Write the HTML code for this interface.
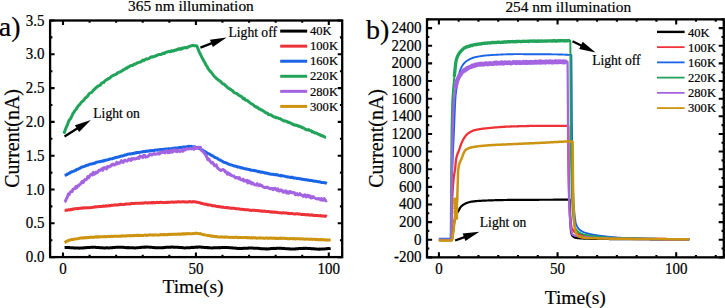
<!DOCTYPE html>
<html><head><meta charset="utf-8"><style>
html,body{margin:0;padding:0;background:#fff;width:725px;height:308px;overflow:hidden;font-family:"Liberation Serif",serif}
text{stroke:#000;stroke-width:0.2px}
</style></head><body>
<svg width="725" height="308" viewBox="0 0 725 308" style="position:absolute;left:0;top:0">
<rect width="725" height="308" fill="#fff"/>
<g font-family='"Liberation Serif", serif' fill="#000">
<g fill="none" stroke-linejoin="round" stroke-linecap="butt">
<path d="M64.59,247.58L65.53,247.51L66.46,247.60L67.39,247.55L68.32,247.46L69.25,247.49L70.18,247.74L71.11,247.77L72.04,247.87L72.97,247.82L73.90,248.00L74.83,247.94L75.76,247.94L76.69,248.08L77.62,248.00L78.55,248.04L79.48,248.19L80.41,248.02L81.34,248.07L82.27,247.98L83.20,247.96L84.13,247.78L85.06,247.77L85.99,247.77L86.92,247.58L87.85,247.44L88.78,247.50L89.71,247.46L90.64,247.37L91.57,247.19L92.50,247.16L93.43,247.24L94.36,247.19L95.29,247.24L96.22,247.41L97.16,247.54L98.09,247.45L99.02,247.55L99.95,247.67L100.88,247.78L101.81,247.79L102.74,247.83L103.67,247.93L104.60,247.96L105.53,247.93L106.46,247.82L107.39,247.87L108.32,247.92L109.25,247.88L110.18,247.77L111.11,247.77L112.04,247.70L112.97,247.54L113.90,247.58L114.83,247.40L115.76,247.37L116.69,247.22L117.62,247.17L118.55,247.16L119.48,247.15L120.41,247.24L121.34,247.18L122.27,247.31L123.20,247.30L124.13,247.42L125.06,247.46L125.99,247.63L126.92,247.66L127.86,247.53L128.79,247.79L129.72,247.72L130.65,247.77L131.58,247.77L132.51,247.85L133.44,247.81L134.37,247.93L135.30,247.89L136.23,247.81L137.16,247.76L138.09,247.70L139.02,247.62L139.95,247.43L140.88,247.45L141.81,247.18L142.74,247.19L143.67,247.18L144.60,247.11L145.53,247.21L146.46,247.03L147.39,247.06L148.32,247.12L149.25,247.23L150.18,247.19L151.11,247.28L152.04,247.38L152.97,247.38L153.90,247.53L154.83,247.67L155.76,247.68L156.69,247.82L157.62,247.86L158.56,247.73L159.49,247.72L160.42,247.65L161.35,247.66L162.28,247.70L163.21,247.77L164.14,247.59L165.07,247.40L166.00,247.37L166.93,247.37L167.86,247.31L168.79,247.31L169.72,247.27L170.65,247.26L171.58,247.01L172.51,247.07L173.44,247.21L174.37,247.16L175.30,247.29L176.23,247.30L177.16,247.22L178.09,247.31L179.02,247.43L179.95,247.56L180.88,247.53L181.81,247.51L182.74,247.70L183.67,247.85L184.60,247.88L185.53,247.88L186.46,247.65L187.39,247.74L188.32,247.63L189.25,247.76L190.19,247.68L191.12,247.49L192.05,247.36L192.98,247.44L193.91,247.44L194.84,247.16L195.77,247.25L196.70,247.09L197.63,247.21L198.56,247.05L199.49,247.01L200.42,247.06L201.35,247.19L202.28,247.14L203.21,247.36L204.14,247.39L205.07,247.44L206.00,247.40L206.93,247.68L207.86,247.56L208.79,247.65L209.72,247.67L210.65,247.88L211.58,247.96L212.51,247.97L213.44,247.82L214.37,247.77L215.30,247.82L216.23,247.84L217.16,247.85L218.09,247.64L219.02,247.58L219.95,247.73L220.89,247.64L221.82,247.43L222.75,247.39L223.68,247.51L224.61,247.51L225.54,247.48L226.47,247.47L227.40,247.63L228.33,247.49L229.26,247.64L230.19,247.65L231.12,247.88L232.05,247.78L232.98,247.93L233.91,248.13L234.84,248.05L235.77,248.20L236.70,248.22L237.63,248.49L238.56,248.52L239.49,248.36L240.42,248.48L241.35,248.41L242.28,248.48L243.21,248.22L244.14,248.30L245.07,248.16L246.00,248.30L246.93,248.14L247.86,248.20L248.79,247.93L249.72,248.02L250.65,248.10L251.59,248.09L252.52,247.98L253.45,248.13L254.38,248.14L255.31,248.13L256.24,248.18L257.17,248.23L258.10,248.30L259.03,248.45L259.96,248.47L260.89,248.67L261.82,248.71L262.75,248.63L263.68,248.86L264.61,248.87L265.54,248.88L266.47,248.82L267.40,248.93L268.33,248.89L269.26,248.73L270.19,248.76L271.12,248.56L272.05,248.46L272.98,248.45L273.91,248.35L274.84,248.38L275.77,248.42L276.70,248.28L277.63,248.27L278.56,248.20L279.49,248.34L280.42,248.34L281.35,248.22L282.28,248.42L283.22,248.44L284.15,248.37L285.08,248.63L286.01,248.75L286.94,248.67L287.87,248.78L288.80,248.83L289.73,249.04L290.66,248.98L291.59,249.11L292.52,249.06L293.45,248.92L294.38,249.07L295.31,248.97L296.24,248.73L297.17,248.68L298.10,248.74L299.03,248.60L299.96,248.56L300.89,248.54L301.82,248.38L302.75,248.52L303.68,248.31L304.61,248.50L305.54,248.28L306.47,248.35L307.40,248.44L308.33,248.42L309.26,248.53L310.19,248.52L311.12,248.77L312.05,248.74L312.98,248.72L313.92,248.78L314.85,249.04L315.78,249.09L316.71,248.96L317.64,249.15L318.57,249.24L319.50,249.06L320.43,249.13L321.36,249.01L322.29,249.04L323.22,248.97L324.15,248.93L325.08,248.90L326.01,248.67L326.94,248.66L327.87,248.57L328.80,248.49L329.73,248.62L330.66,248.41" stroke="#000000" stroke-width="3"/>
<path d="M64.59,210.26L65.53,210.30L66.46,210.11L67.39,210.21L68.32,209.71L69.25,209.88L70.18,209.55L71.11,209.64L72.04,209.53L72.97,209.11L73.90,209.05L74.83,208.83L75.76,208.64L76.69,208.43L77.62,208.80L78.55,208.40L79.48,208.33L80.41,208.19L81.34,208.16L82.27,208.06L83.20,207.81L84.13,207.95L85.06,207.82L85.99,207.66L86.92,207.91L87.85,207.64L88.78,207.75L89.71,207.65L90.64,207.65L91.57,207.47L92.50,207.39L93.43,207.15L94.36,207.05L95.29,206.83L96.22,206.94L97.16,206.64L98.09,206.83L99.02,206.56L99.95,206.57L100.88,206.45L101.81,206.55L102.74,206.10L103.67,206.09L104.60,206.33L105.53,206.02L106.46,205.68L107.39,206.09L108.32,205.86L109.25,205.52L110.18,205.80L111.11,205.32L112.04,205.32L112.97,205.14L113.90,205.14L114.83,204.84L115.76,205.07L116.69,204.86L117.62,205.06L118.55,204.70L119.48,204.70L120.41,204.31L121.34,204.25L122.27,204.61L123.20,204.58L124.13,204.46L125.06,204.34L125.99,203.97L126.92,203.99L127.86,203.92L128.79,203.88L129.72,204.05L130.65,203.77L131.58,203.37L132.51,203.40L133.44,203.47L134.37,203.60L135.30,203.15L136.23,203.36L137.16,203.20L138.09,203.37L139.02,203.25L139.95,203.19L140.88,203.12L141.81,203.28L142.74,202.90L143.67,203.13L144.60,202.86L145.53,202.82L146.46,202.75L147.39,202.94L148.32,202.91L149.25,202.63L150.18,202.80L151.11,202.90L152.04,202.47L152.97,202.92L153.90,202.43L154.83,202.73L155.76,202.65L156.69,202.31L157.62,202.58L158.56,202.41L159.49,202.55L160.42,202.26L161.35,202.34L162.28,202.45L163.21,202.64L164.14,202.47L165.07,202.38L166.00,202.47L166.93,202.31L167.86,202.47L168.79,202.29L169.72,202.25L170.65,202.15L171.58,202.09L172.51,202.07L173.44,202.21L174.37,202.17L175.30,201.91L176.23,202.16L177.16,201.93L178.09,201.77L179.02,201.78L179.95,201.95L180.88,202.06L181.81,201.86L182.74,201.81L183.67,201.87L184.60,201.95L185.53,201.86L186.46,202.05L187.39,201.92L188.32,201.98L189.25,201.68L190.19,201.51L191.12,201.94L192.05,202.00L192.98,201.61L193.91,201.81L194.84,201.75L195.77,202.11L196.70,202.24L197.63,202.22L198.56,202.55L199.49,202.70L200.42,202.91L201.35,203.46L202.28,203.52L203.21,203.82L204.14,203.98L205.07,204.24L206.00,204.12L206.93,204.50L207.86,204.95L208.79,204.84L209.72,204.88L210.65,205.09L211.58,205.45L212.51,205.91L213.44,205.64L214.37,205.72L215.30,205.98L216.23,206.28L217.16,206.45L218.09,206.38L219.02,206.86L219.95,206.62L220.89,206.90L221.82,207.26L222.75,206.97L223.68,207.32L224.61,207.59L225.54,207.67L226.47,207.41L227.40,207.89L228.33,207.67L229.26,207.77L230.19,208.26L231.12,208.18L232.05,208.09L232.98,208.35L233.91,208.25L234.84,208.61L235.77,208.58L236.70,208.90L237.63,208.66L238.56,208.75L239.49,209.00L240.42,209.22L241.35,209.30L242.28,209.25L243.21,209.59L244.14,209.47L245.07,209.68L246.00,209.74L246.93,209.83L247.86,209.64L248.79,210.08L249.72,210.13L250.65,210.25L251.59,210.42L252.52,210.28L253.45,210.14L254.38,210.19L255.31,210.50L256.24,210.62L257.17,210.46L258.10,210.73L259.03,210.80L259.96,210.83L260.89,211.22L261.82,210.89L262.75,211.37L263.68,211.22L264.61,211.09L265.54,211.37L266.47,211.56L267.40,211.44L268.33,211.42L269.26,211.66L270.19,212.04L271.12,211.67L272.05,212.22L272.98,211.94L273.91,211.90L274.84,212.38L275.77,212.25L276.70,212.24L277.63,212.60L278.56,212.64L279.49,212.81L280.42,212.84L281.35,212.94L282.28,212.92L283.22,212.75L284.15,212.86L285.08,212.89L286.01,213.02L286.94,213.03L287.87,213.45L288.80,213.31L289.73,213.67L290.66,213.49L291.59,213.37L292.52,213.65L293.45,213.82L294.38,213.90L295.31,213.91L296.24,213.71L297.17,213.75L298.10,213.94L299.03,213.89L299.96,214.08L300.89,214.41L301.82,214.41L302.75,214.32L303.68,214.40L304.61,214.49L305.54,214.67L306.47,214.93L307.40,214.56L308.33,215.03L309.26,214.69L310.19,215.22L311.12,214.83L312.05,215.23L312.98,215.07L313.92,215.58L314.85,215.41L315.78,215.59L316.71,215.42L317.64,215.51L318.57,215.69L319.50,215.63L320.43,215.55L321.36,216.10L322.29,215.92L323.22,215.93L324.15,216.03L325.08,216.30L326.01,216.04L326.94,216.45" stroke="#ee3338" stroke-width="3"/>
<path d="M64.59,175.32L65.53,175.09L66.46,174.82L67.39,174.00L68.32,173.94L69.25,173.09L70.18,172.73L71.11,172.11L72.04,171.68L72.97,171.43L73.90,171.11L74.83,170.57L75.76,170.26L76.69,169.45L77.62,169.31L78.55,168.82L79.48,168.36L80.41,167.85L81.34,167.29L82.27,167.03L83.20,166.62L84.13,166.48L85.06,166.00L85.99,165.75L86.92,165.15L87.85,165.24L88.78,164.62L89.71,164.29L90.64,164.11L91.57,164.09L92.50,163.72L93.43,163.46L94.36,163.19L95.29,162.95L96.22,162.32L97.16,162.18L98.09,161.89L99.02,161.75L99.95,161.72L100.88,161.17L101.81,161.19L102.74,161.13L103.67,160.61L104.60,160.64L105.53,160.11L106.46,159.92L107.39,159.94L108.32,159.62L109.25,159.24L110.18,159.03L111.11,158.87L112.04,158.79L112.97,158.48L113.90,158.03L114.83,157.90L115.76,157.50L116.69,157.25L117.62,157.17L118.55,157.04L119.48,156.47L120.41,156.38L121.34,156.01L122.27,155.99L123.20,155.73L124.13,155.34L125.06,154.97L125.99,155.03L126.92,154.45L127.86,154.20L128.79,154.09L129.72,153.86L130.65,153.95L131.58,153.85L132.51,153.55L133.44,153.50L134.37,153.17L135.30,152.82L136.23,152.93L137.16,152.46L138.09,152.53L139.02,152.54L139.95,152.13L140.88,152.10L141.81,152.02L142.74,151.78L143.67,151.40L144.60,151.39L145.53,151.51L146.46,151.05L147.39,151.33L148.32,151.08L149.25,150.99L150.18,150.54L151.11,150.95L152.04,150.50L152.97,150.47L153.90,150.55L154.83,150.19L155.76,150.00L156.69,149.92L157.62,150.20L158.56,149.72L159.49,149.87L160.42,149.50L161.35,149.57L162.28,149.74L163.21,149.29L164.14,149.30L165.07,149.27L166.00,149.08L166.93,149.09L167.86,149.22L168.79,148.65L169.72,148.89L170.65,148.80L171.58,148.82L172.51,148.35L173.44,148.13L174.37,148.25L175.30,147.93L176.23,148.07L177.16,147.91L178.09,147.83L179.02,147.70L179.95,147.43L180.88,147.43L181.81,147.45L182.74,147.00L183.67,147.09L184.60,146.95L185.53,146.96L186.46,146.95L187.39,146.55L188.32,146.61L189.25,146.28L190.19,146.73L191.12,146.27L192.05,146.70L192.98,146.66L193.91,146.90L194.84,146.88L195.77,147.28L196.70,147.67L197.63,147.71L198.56,148.33L199.49,148.55L200.42,148.95L201.35,149.68L202.28,149.98L203.21,150.73L204.14,151.16L205.07,151.53L206.00,152.15L206.93,152.97L207.86,153.52L208.79,153.68L209.72,154.23L210.65,154.76L211.58,155.49L212.51,155.70L213.44,156.33L214.37,157.08L215.30,157.59L216.23,157.87L217.16,158.20L218.09,158.93L219.02,159.60L219.95,159.88L220.89,160.66L221.82,160.91L222.75,161.51L223.68,162.18L224.61,162.37L225.54,162.80L226.47,163.00L227.40,163.50L228.33,164.09L229.26,164.25L230.19,164.78L231.12,164.87L232.05,165.19L232.98,165.48L233.91,166.00L234.84,165.98L235.77,166.34L236.70,166.50L237.63,167.13L238.56,167.00L239.49,167.13L240.42,167.56L241.35,168.04L242.28,167.84L243.21,168.26L244.14,168.63L245.07,168.66L246.00,168.74L246.93,169.36L247.86,169.32L248.79,169.48L249.72,169.52L250.65,170.20L251.59,170.14L252.52,170.21L253.45,170.44L254.38,170.52L255.31,170.82L256.24,171.03L257.17,171.23L258.10,171.66L259.03,171.47L259.96,171.85L260.89,172.30L261.82,172.06L262.75,172.32L263.68,172.52L264.61,173.02L265.54,172.85L266.47,173.22L267.40,173.14L268.33,173.67L269.26,173.74L270.19,174.03L271.12,174.25L272.05,174.25L272.98,174.21L273.91,174.52L274.84,174.75L275.77,174.56L276.70,174.84L277.63,174.86L278.56,175.38L279.49,175.60L280.42,175.34L281.35,175.97L282.28,175.75L283.22,175.82L284.15,176.10L285.08,176.33L286.01,176.60L286.94,176.79L287.87,177.07L288.80,177.06L289.73,177.15L290.66,177.45L291.59,177.21L292.52,177.35L293.45,177.89L294.38,177.88L295.31,177.88L296.24,178.19L297.17,178.47L298.10,178.36L299.03,178.68L299.96,178.78L300.89,178.86L301.82,179.26L302.75,179.20L303.68,179.58L304.61,179.52L305.54,179.88L306.47,179.74L307.40,180.13L308.33,179.94L309.26,180.52L310.19,180.37L311.12,180.44L312.05,180.58L312.98,180.92L313.92,181.05L314.85,181.34L315.78,181.18L316.71,181.38L317.64,181.66L318.57,181.81L319.50,181.74L320.43,182.08L321.36,182.48L322.29,182.62L323.22,182.41L324.15,182.69L325.08,182.82L326.01,183.04L326.94,183.41" stroke="#1a64e6" stroke-width="3"/>
<path d="M63.80,133.60L64.73,131.40L65.66,128.77L66.59,126.48L67.52,124.65L68.45,121.73L69.38,119.82L70.31,119.05L71.24,117.31L72.17,115.35L73.10,113.17L74.03,112.25L74.96,110.36L75.89,109.62L76.82,108.15L77.75,106.53L78.68,105.50L79.61,104.72L80.54,103.43L81.47,102.15L82.40,101.33L83.33,100.52L84.26,99.48L85.19,97.95L86.12,97.57L87.05,96.67L87.99,95.66L88.92,94.01L89.85,93.13L90.78,92.83L91.71,92.26L92.64,91.18L93.57,89.89L94.50,89.41L95.43,88.27L96.36,87.51L97.29,86.82L98.22,85.99L99.15,85.65L100.08,85.30L101.01,83.92L101.94,82.99L102.87,82.65L103.80,82.42L104.73,81.01L105.66,80.35L106.59,79.69L107.52,79.33L108.45,78.40L109.38,78.54L110.31,77.56L111.24,76.50L112.17,75.90L113.10,75.52L114.03,75.18L114.96,74.56L115.89,74.25L116.82,73.87L117.75,72.59L118.69,72.37L119.62,72.07L120.55,71.56L121.48,71.20L122.41,70.66L123.34,69.62L124.27,69.53L125.20,69.01L126.13,67.95L127.06,68.29L127.99,66.90L128.92,67.02L129.85,66.11L130.78,65.67L131.71,65.38L132.64,65.62L133.57,64.53L134.50,64.33L135.43,64.05L136.36,63.41L137.29,62.84L138.22,62.73L139.15,62.30L140.08,62.11L141.01,61.77L141.94,60.88L142.87,60.11L143.80,60.68L144.73,59.69L145.66,59.38L146.59,58.85L147.52,58.96L148.45,58.67L149.38,58.29L150.32,57.35L151.25,57.00L152.18,56.71L153.11,56.96L154.04,56.53L154.97,56.30L155.90,55.56L156.83,55.74L157.76,54.89L158.69,54.53L159.62,54.52L160.55,54.62L161.48,54.24L162.41,53.62L163.34,53.16L164.27,53.46L165.20,52.71L166.13,52.16L167.06,52.08L167.99,51.65L168.92,51.32L169.85,51.80L170.78,51.62L171.71,50.63L172.64,50.93L173.57,50.99L174.50,50.19L175.43,50.10L176.36,50.17L177.29,49.16L178.22,49.40L179.15,48.62L180.08,49.16L181.02,49.19L181.95,48.06L182.88,48.52L183.81,47.64L184.74,47.91L185.67,47.49L186.60,47.91L187.53,47.55L188.46,46.88L189.39,46.33L190.32,46.20L191.25,45.82L192.18,45.69L193.11,45.24L194.04,45.84L194.97,45.83L195.90,45.66L196.83,46.01L197.76,48.02L198.69,50.67L199.62,52.81L200.55,54.51L201.48,56.37L202.41,58.33L203.34,59.97L204.27,61.70L205.20,63.18L206.13,65.31L207.06,66.27L207.99,68.36L208.92,69.71L209.85,70.99L210.78,71.77L211.72,72.89L212.65,74.28L213.58,75.36L214.51,76.59L215.44,77.33L216.37,78.41L217.30,79.00L218.23,80.00L219.16,80.35L220.09,81.08L221.02,82.18L221.95,82.99L222.88,83.93L223.81,84.04L224.74,84.75L225.67,85.87L226.60,86.38L227.53,87.60L228.46,88.07L229.39,89.00L230.32,89.05L231.25,90.08L232.18,90.42L233.11,91.35L234.04,92.54L234.97,92.91L235.90,93.21L236.83,93.46L237.76,94.35L238.69,95.28L239.62,95.57L240.55,96.22L241.48,96.49L242.41,97.52L243.35,98.81L244.28,98.39L245.21,99.94L246.14,100.34L247.07,100.32L248.00,101.26L248.93,101.86L249.86,102.74L250.79,103.37L251.72,104.07L252.65,104.18L253.58,105.21L254.51,106.07L255.44,106.58L256.37,107.24L257.30,107.02L258.23,108.29L259.16,108.92L260.09,109.04L261.02,109.99L261.95,110.01L262.88,110.70L263.81,111.35L264.74,112.01L265.67,112.64L266.60,113.08L267.53,113.30L268.46,114.48L269.39,114.77L270.32,114.71L271.25,115.15L272.18,115.72L273.11,116.48L274.05,116.93L274.98,116.99L275.91,117.68L276.84,117.54L277.77,117.89L278.70,118.31L279.63,118.78L280.56,118.86L281.49,119.58L282.42,120.23L283.35,120.63L284.28,121.14L285.21,120.93L286.14,121.13L287.07,121.65L288.00,122.53L288.93,122.28L289.86,122.60L290.79,123.37L291.72,123.55L292.65,124.42L293.58,124.21L294.51,125.20L295.44,125.20L296.37,125.06L297.30,125.61L298.23,126.24L299.16,126.01L300.09,126.68L301.02,126.71L301.95,127.54L302.88,127.72L303.81,128.09L304.75,129.09L305.68,129.36L306.61,129.75L307.54,130.03L308.47,129.56L309.40,130.28L310.33,130.61L311.26,130.79L312.19,131.98L313.12,131.76L314.05,132.41L314.98,132.97L315.91,132.98L316.84,133.33L317.77,133.97L318.70,134.28L319.63,134.52L320.56,135.46L321.49,135.36L322.42,136.17L323.35,136.11L324.28,136.73L325.21,137.25L326.14,137.27" stroke="#22a35a" stroke-width="3"/>
<path d="M64.59,201.98L65.53,201.03L66.46,198.52L67.39,197.15L68.32,194.06L69.25,194.53L70.18,192.27L71.11,191.42L72.04,191.58L72.97,189.37L73.90,188.89L74.83,188.51L75.76,186.51L76.69,187.81L77.62,185.76L78.55,185.81L79.48,184.54L80.41,184.10L81.34,182.57L82.27,181.32L83.20,182.55L84.13,180.82L85.06,179.44L85.99,179.76L86.92,178.85L87.85,176.53L88.78,177.72L89.71,175.75L90.64,174.72L91.57,174.15L92.50,175.03L93.43,172.35L94.36,174.16L95.29,173.71L96.22,172.02L97.16,172.79L98.09,171.81L99.02,170.27L99.95,170.43L100.88,169.96L101.81,168.73L102.74,170.31L103.67,167.75L104.60,168.20L105.53,167.69L106.46,168.93L107.39,166.46L108.32,167.23L109.25,166.84L110.18,165.87L111.11,166.08L112.04,164.38L112.97,164.05L113.90,164.99L114.83,164.96L115.76,164.13L116.69,162.32L117.62,163.62L118.55,162.79L119.48,163.17L120.41,162.14L121.34,160.69L122.27,161.74L123.20,162.41L124.13,160.68L125.06,160.02L125.99,160.84L126.92,161.19L127.86,160.33L128.79,159.06L129.72,159.62L130.65,160.50L131.58,158.63L132.51,159.48L133.44,158.59L134.37,158.68L135.30,159.04L136.23,158.36L137.16,158.47L138.09,157.61L139.02,158.35L139.95,156.10L140.88,156.33L141.81,156.39L142.74,157.37L143.67,155.48L144.60,155.26L145.53,157.16L146.46,156.66L147.39,156.77L148.32,156.19L149.25,154.79L150.18,154.13L151.11,155.02L152.04,155.08L152.97,154.08L153.90,153.56L154.83,154.19L155.76,154.01L156.69,154.00L157.62,153.69L158.56,153.48L159.49,154.06L160.42,151.88L161.35,152.70L162.28,152.13L163.21,152.54L164.14,151.59L165.07,152.80L166.00,151.14L166.93,150.72L167.86,152.60L168.79,151.72L169.72,152.56L170.65,150.65L171.58,151.14L172.51,152.22L173.44,149.98L174.37,149.83L175.30,151.30L176.23,150.08L177.16,151.62L178.09,150.12L179.02,150.87L179.95,151.51L180.88,150.76L181.81,150.12L182.74,151.27L183.67,149.15L184.60,150.19L185.53,149.88L186.46,148.69L187.39,148.69L188.32,149.10L189.25,148.97L190.19,148.57L191.12,148.89L192.05,148.72L192.98,147.81L193.91,149.32L194.84,146.95L195.77,148.47L196.70,148.30L197.63,147.20L198.56,147.31L199.49,147.53L200.42,147.27L201.35,150.20L202.28,150.90L203.21,152.05L204.14,152.55L205.07,154.47L206.00,155.25L206.93,157.26L207.86,159.58L208.79,158.96L209.72,160.71L210.65,161.85L211.58,162.95L212.51,162.32L213.44,163.68L214.37,165.70L215.30,165.69L216.23,164.94L217.16,167.41L218.09,168.38L219.02,169.14L219.95,169.76L220.89,170.43L221.82,169.97L222.75,169.47L223.68,169.91L224.61,170.54L225.54,172.34L226.47,172.10L227.40,174.12L228.33,172.88L229.26,174.56L230.19,174.11L231.12,175.48L232.05,175.46L232.98,175.98L233.91,176.07L234.84,177.20L235.77,177.97L236.70,177.48L237.63,177.38L238.56,178.72L239.49,177.70L240.42,179.31L241.35,179.80L242.28,180.15L243.21,179.09L244.14,181.05L245.07,180.58L246.00,181.12L246.93,180.33L247.86,182.92L248.79,180.95L249.72,182.78L250.65,181.97L251.59,183.73L252.52,182.77L253.45,183.98L254.38,184.60L255.31,184.90L256.24,185.18L257.17,183.66L258.10,185.03L259.03,185.63L259.96,184.68L260.89,185.61L261.82,185.54L262.75,186.74L263.68,187.20L264.61,187.57L265.54,187.34L266.47,187.41L267.40,187.08L268.33,187.93L269.26,188.18L270.19,188.85L271.12,188.61L272.05,188.45L272.98,189.69L273.91,188.40L274.84,188.23L275.77,189.30L276.70,190.15L277.63,188.75L278.56,191.03L279.49,191.08L280.42,189.89L281.35,190.00L282.28,191.27L283.22,192.16L284.15,191.04L285.08,191.97L286.01,190.94L286.94,193.06L287.87,192.12L288.80,193.22L289.73,191.53L290.66,191.67L291.59,192.82L292.52,192.76L293.45,192.50L294.38,192.65L295.31,194.76L296.24,194.43L297.17,193.51L298.10,194.96L299.03,194.79L299.96,193.62L300.89,195.05L301.82,194.99L302.75,196.03L303.68,196.41L304.61,194.75L305.54,195.27L306.47,197.00L307.40,195.24L308.33,195.51L309.26,197.08L310.19,195.92L311.12,197.92L312.05,197.82L312.98,196.47L313.92,197.51L314.85,197.97L315.78,198.43L316.71,198.81L317.64,199.09L318.57,198.61L319.50,198.67L320.43,199.87L321.36,198.47L322.29,200.22L323.22,200.28L324.15,198.65L325.08,200.09L326.01,200.87L326.94,200.42" stroke="#a463e0" stroke-width="3"/>
<path d="M64.59,242.68L65.53,242.18L66.46,241.17L67.39,241.15L68.32,240.41L69.25,240.27L70.18,240.12L71.11,239.54L72.04,239.52L72.97,239.58L73.90,239.23L74.83,238.94L75.76,238.90L76.69,238.82L77.62,238.67L78.55,238.56L79.48,238.35L80.41,237.95L81.34,237.89L82.27,238.00L83.20,237.72L84.13,238.03L85.06,237.70L85.99,237.52L86.92,237.74L87.85,237.51L88.78,237.46L89.71,237.62L90.64,237.09L91.57,237.35L92.50,237.19L93.43,237.43L94.36,237.10L95.29,237.09L96.22,236.80L97.16,237.19L98.09,236.70L99.02,237.03L99.95,236.63L100.88,236.63L101.81,236.68L102.74,236.77L103.67,236.68L104.60,236.52L105.53,236.64L106.46,236.77L107.39,236.39L108.32,236.35L109.25,236.55L110.18,236.55L111.11,236.14L112.04,236.41L112.97,236.53L113.90,236.06L114.83,236.37L115.76,236.26L116.69,236.13L117.62,236.15L118.55,236.26L119.48,236.22L120.41,236.05L121.34,236.22L122.27,235.77L123.20,236.09L124.13,236.12L125.06,236.07L125.99,236.03L126.92,235.62L127.86,235.85L128.79,235.64L129.72,235.57L130.65,235.94L131.58,235.62L132.51,235.48L133.44,235.77L134.37,235.36L135.30,235.55L136.23,235.53L137.16,235.24L138.09,235.65L139.02,235.22L139.95,235.55L140.88,235.36L141.81,235.59L142.74,235.41L143.67,235.44L144.60,235.13L145.53,234.98L146.46,235.41L147.39,235.43L148.32,235.08L149.25,234.88L150.18,234.86L151.11,234.88L152.04,234.93L152.97,234.98L153.90,235.25L154.83,234.73L155.76,234.89L156.69,234.92L157.62,235.13L158.56,235.02L159.49,234.89L160.42,234.53L161.35,234.67L162.28,234.61L163.21,234.75L164.14,234.52L165.07,234.78L166.00,234.71L166.93,234.54L167.86,234.70L168.79,234.29L169.72,234.60L170.65,234.44L171.58,234.16L172.51,234.44L173.44,234.29L174.37,234.20L175.30,234.30L176.23,234.36L177.16,234.18L178.09,234.00L179.02,234.17L179.95,233.99L180.88,234.18L181.81,234.07L182.74,233.74L183.67,234.17L184.60,233.66L185.53,234.08L186.46,233.61L187.39,233.79L188.32,233.56L189.25,233.75L190.19,233.73L191.12,233.72L192.05,233.72L192.98,233.48L193.91,233.62L194.84,233.46L195.77,233.12L196.70,233.20L197.63,233.36L198.56,233.68L199.49,233.85L200.42,233.59L201.35,234.17L202.28,234.36L203.21,234.52L204.14,234.78L205.07,234.88L206.00,235.15L206.93,235.36L207.86,235.55L208.79,235.48L209.72,235.58L210.65,236.05L211.58,236.28L212.51,236.01L213.44,236.46L214.37,236.31L215.30,236.64L216.23,236.51L217.16,236.72L218.09,236.92L219.02,236.99L219.95,236.89L220.89,236.85L221.82,236.91L222.75,236.95L223.68,236.96L224.61,237.20L225.54,236.96L226.47,236.93L227.40,237.14L228.33,237.16L229.26,237.38L230.19,237.46L231.12,237.37L232.05,237.30L232.98,237.50L233.91,237.40L234.84,237.36L235.77,237.35L236.70,237.27L237.63,237.41L238.56,237.63L239.49,237.58L240.42,237.54L241.35,237.51L242.28,237.60L243.21,237.64L244.14,237.39L245.07,237.54L246.00,237.43L246.93,237.86L247.86,237.61L248.79,237.74L249.72,237.84L250.65,238.01L251.59,237.58L252.52,238.07L253.45,237.65L254.38,237.92L255.31,237.67L256.24,238.14L257.17,238.15L258.10,237.97L259.03,237.88L259.96,237.87L260.89,238.09L261.82,237.92L262.75,238.06L263.68,238.20L264.61,238.24L265.54,238.20L266.47,237.86L267.40,238.21L268.33,238.08L269.26,238.32L270.19,237.88L271.12,237.95L272.05,238.36L272.98,238.35L273.91,238.01L274.84,238.34L275.77,238.47L276.70,238.22L277.63,238.48L278.56,238.54L279.49,238.25L280.42,238.09L281.35,238.54L282.28,238.20L283.22,238.34L284.15,238.23L285.08,238.54L286.01,238.56L286.94,238.46L287.87,238.67L288.80,238.65L289.73,238.77L290.66,238.41L291.59,238.64L292.52,238.84L293.45,238.45L294.38,238.86L295.31,238.98L296.24,238.77L297.17,238.71L298.10,238.80L299.03,238.76L299.96,238.93L300.89,238.74L301.82,238.89L302.75,239.14L303.68,238.80L304.61,239.28L305.54,239.16L306.47,239.06L307.40,238.90L308.33,239.26L309.26,239.38L310.19,239.17L311.12,239.12L312.05,239.43L312.98,239.36L313.92,239.28L314.85,239.40L315.78,239.26L316.71,239.67L317.64,239.36L318.57,239.81L319.50,239.71L320.43,239.45L321.36,239.67L322.29,239.49L323.22,239.69L324.15,239.63L325.08,239.97L326.01,239.87L326.94,239.91L327.87,240.04L328.80,239.99L329.73,239.92L330.66,239.80" stroke="#cc9410" stroke-width="3"/>
</g>
<rect x="50.10" y="20.50" width="292.10" height="236.60" fill="none" stroke="#000" stroke-width="2.3"/>
<path d="M63.00,257.10V252.60M63.00,20.50V25.00M195.90,257.10V252.60M195.90,20.50V25.00M328.80,257.10V252.60M328.80,20.50V25.00M89.58,257.10V254.80M89.58,20.50V22.80M116.16,257.10V254.80M116.16,20.50V22.80M142.74,257.10V254.80M142.74,20.50V22.80M169.32,257.10V254.80M169.32,20.50V22.80M222.48,257.10V254.80M222.48,20.50V22.80M249.06,257.10V254.80M249.06,20.50V22.80M275.64,257.10V254.80M275.64,20.50V22.80M302.22,257.10V254.80M302.22,20.50V22.80M50.10,257.10H54.60M342.20,257.10H337.70M50.10,223.30H54.60M342.20,223.30H337.70M50.10,189.50H54.60M342.20,189.50H337.70M50.10,155.70H54.60M342.20,155.70H337.70M50.10,121.90H54.60M342.20,121.90H337.70M50.10,88.10H54.60M342.20,88.10H337.70M50.10,54.30H54.60M342.20,54.30H337.70M50.10,20.50H54.60M342.20,20.50H337.70M50.10,240.20H52.40M342.20,240.20H339.90M50.10,206.40H52.40M342.20,206.40H339.90M50.10,172.60H52.40M342.20,172.60H339.90M50.10,138.80H52.40M342.20,138.80H339.90M50.10,105.00H52.40M342.20,105.00H339.90M50.10,71.20H52.40M342.20,71.20H339.90M50.10,37.40H52.40M342.20,37.40H339.90" stroke="#000" stroke-width="2.10" fill="none"/>
<text transform="translate(44.40 262.10) scale(1 1.080)" font-size="15.00" text-anchor="end">0.0</text>
<text transform="translate(44.40 228.30) scale(1 1.080)" font-size="15.00" text-anchor="end">0.5</text>
<text transform="translate(44.40 194.50) scale(1 1.080)" font-size="15.00" text-anchor="end">1.0</text>
<text transform="translate(44.40 160.70) scale(1 1.080)" font-size="15.00" text-anchor="end">1.5</text>
<text transform="translate(44.40 126.90) scale(1 1.080)" font-size="15.00" text-anchor="end">2.0</text>
<text transform="translate(44.40 93.10) scale(1 1.080)" font-size="15.00" text-anchor="end">2.5</text>
<text transform="translate(44.40 59.30) scale(1 1.080)" font-size="15.00" text-anchor="end">3.0</text>
<text transform="translate(44.40 25.50) scale(1 1.080)" font-size="15.00" text-anchor="end">3.5</text>
<text transform="translate(63.00 274.40) scale(1 1.090)" font-size="15.00" text-anchor="middle">0</text>
<text transform="translate(195.90 274.40) scale(1 1.090)" font-size="15.00" text-anchor="middle">50</text>
<text transform="translate(328.80 274.40) scale(1 1.090)" font-size="15.00" text-anchor="middle">100</text>
<text x="193.00" y="293.20" font-size="19.50" text-anchor="middle" >Time(s)</text>
<text x="18.60" y="138.40" font-size="20.00" text-anchor="middle" transform="rotate(-90 18.6 138.4)">Current(nA)</text>
<text x="-1.20" y="35.80" font-size="28.00" text-anchor="start" >a)</text>
<text x="128.10" y="11.00" font-size="15.40" text-anchor="start" >365 nm illumination</text>
<line x1="280.2" y1="31.10" x2="307.2" y2="31.10" stroke="#000000" stroke-width="3"/>
<text transform="translate(310.00 34.90) scale(1 1.040)" font-size="12.60" text-anchor="start">40K</text>
<line x1="280.2" y1="46.16" x2="307.2" y2="46.16" stroke="#ee3338" stroke-width="3"/>
<text transform="translate(310.00 50.05) scale(1 1.040)" font-size="12.60" text-anchor="start">100K</text>
<line x1="280.2" y1="61.22" x2="307.2" y2="61.22" stroke="#1a64e6" stroke-width="3"/>
<text transform="translate(310.00 65.20) scale(1 1.040)" font-size="12.60" text-anchor="start">160K</text>
<line x1="280.2" y1="76.28" x2="307.2" y2="76.28" stroke="#22a35a" stroke-width="3"/>
<text transform="translate(310.00 80.35) scale(1 1.040)" font-size="12.60" text-anchor="start">220K</text>
<line x1="280.2" y1="91.34" x2="307.2" y2="91.34" stroke="#a463e0" stroke-width="3"/>
<text transform="translate(310.00 95.50) scale(1 1.040)" font-size="12.60" text-anchor="start">280K</text>
<line x1="280.2" y1="106.40" x2="307.2" y2="106.40" stroke="#cc9410" stroke-width="3"/>
<text transform="translate(310.00 110.65) scale(1 1.040)" font-size="12.60" text-anchor="start">300K</text>
<text x="228.50" y="37.00" font-size="13.60" text-anchor="start" >Light off</text>
<line x1="200.40" y1="47.60" x2="213.26" y2="42.64" stroke="#000" stroke-width="2.30"/><polygon points="226.60,37.50 212.83,47.10 209.95,39.63" fill="#000"/>
<text x="93.30" y="118.10" font-size="13.60" text-anchor="start" >Light on</text>
<line x1="64.50" y1="136.40" x2="78.75" y2="127.55" stroke="#000" stroke-width="2.30"/><polygon points="90.90,120.00 79.16,132.00 74.94,125.20" fill="#000"/>
<g fill="none" stroke-linejoin="round" stroke-linecap="butt">
<path d="M438.90,240.25L439.61,240.25L440.32,240.25L441.04,240.25L441.75,240.25L442.46,240.25L443.17,240.25L443.88,240.25L444.60,240.25L445.31,240.25L445.38,240.25L445.45,240.25L445.52,240.25L445.59,240.25L445.66,240.25L445.73,240.25L445.81,240.25L445.88,240.25L445.95,240.25L446.02,240.25L446.09,240.25L446.16,240.25L446.23,240.25L446.30,240.25L446.37,240.25L446.45,240.25L446.52,240.25L446.59,240.25L446.66,240.25L446.73,240.25L446.80,240.25L446.87,240.25L446.94,240.25L447.02,240.25L447.09,240.25L447.16,240.25L447.23,240.25L447.30,240.25L447.37,240.25L447.44,240.25L447.51,240.25L447.59,240.25L447.66,240.25L447.73,240.25L447.80,240.25L447.87,240.25L447.94,240.25L448.01,240.25L448.08,240.25L448.15,240.25L448.23,240.25L448.30,240.25L448.37,240.25L448.44,240.25L448.51,240.25L448.58,240.25L448.65,240.25L448.72,240.25L448.80,240.25L448.87,240.25L448.94,240.25L449.01,240.25L449.08,240.25L449.15,240.25L449.22,240.25L449.29,240.25L449.36,240.25L449.44,240.25L449.51,240.25L449.58,240.25L449.65,240.25L449.72,240.25L449.79,240.25L449.86,240.25L449.93,240.25L450.01,240.25L450.08,240.25L450.15,240.25L450.22,240.25L450.29,240.25L450.36,240.25L450.43,240.25L450.50,240.25L450.58,240.25L450.65,240.25L450.72,240.25L450.79,240.25L450.86,240.25L450.93,240.25L451.00,240.25L451.07,240.25L451.14,240.25L451.22,240.25L451.29,240.25L451.36,240.25L451.43,240.25L451.50,240.25L451.57,240.21L451.64,240.13L451.71,240.01L451.79,239.84L451.86,239.64L451.93,239.41L452.00,239.14L452.07,238.83L452.14,238.49L452.21,238.13L452.28,237.74L452.35,237.32L452.43,236.87L452.50,236.40L452.57,235.91L452.64,235.41L452.71,234.88L452.78,234.34L452.85,233.78L452.92,233.21L453.00,232.63L453.07,232.04L453.14,231.45L453.21,230.84L453.28,230.24L453.35,229.63L453.42,229.02L453.49,228.41L453.57,227.80L453.64,227.20L453.71,226.60L453.78,226.01L453.85,225.43L453.92,224.87L453.99,224.31L454.06,223.77L454.13,223.25L454.21,222.74L454.28,222.25L454.35,221.79L454.42,221.35L454.49,220.93L454.56,220.54L454.63,220.17L454.70,219.84L454.78,219.54L454.85,219.26L454.92,219.00L454.99,218.73L455.06,218.47L455.13,218.22L455.20,217.97L455.27,217.72L455.34,217.48L455.42,217.25L455.49,217.02L455.56,216.79L455.63,216.57L455.70,216.35L455.77,216.14L455.84,215.93L455.91,215.72L455.99,215.52L456.06,215.33L456.13,215.14L456.20,214.95L456.27,214.77L456.34,214.59L456.41,214.42L456.48,214.25L456.56,214.08L456.63,213.92L456.70,213.77L456.77,213.61L456.84,213.47L456.91,213.32L456.98,213.18L457.05,213.05L457.12,212.92L457.20,212.80L457.27,212.68L457.34,212.57L457.41,212.46L457.48,212.35L457.55,212.24L457.62,212.14L457.69,212.04L457.77,211.94L457.84,211.84L457.91,211.74L457.98,211.64L458.05,211.54L458.12,211.43L458.19,211.33L458.26,211.22L458.33,211.11L458.41,210.99L458.48,210.88L458.55,210.75L458.62,210.63L458.69,210.50L458.76,210.38L458.83,210.25L458.90,210.11L458.98,209.98L459.05,209.84L459.12,209.71L459.19,209.57L459.26,209.43L459.33,209.30L459.40,209.16L459.47,209.02L459.55,208.89L459.62,208.75L459.69,208.62L459.76,208.48L459.83,208.35L459.90,208.22L459.97,208.09L460.04,207.97L460.11,207.85L460.19,207.73L460.26,207.61L460.33,207.50L460.40,207.39L460.47,207.28L460.54,207.18L460.61,207.08L460.68,206.99L460.76,206.90L460.83,206.81L460.90,206.74L460.97,206.66L461.04,206.59L461.11,206.53L461.18,206.46L461.25,206.39L461.32,206.33L461.40,206.26L461.47,206.20L461.54,206.13L461.61,206.07L461.68,206.01L461.75,205.94L461.82,205.88L461.89,205.82L461.97,205.76L462.04,205.70L462.11,205.64L462.18,205.59L462.25,205.53L462.32,205.47L462.39,205.42L462.46,205.36L462.54,205.31L462.61,205.25L462.68,205.20L462.75,205.15L462.82,205.10L462.89,205.04L462.96,204.99L463.03,204.94L463.10,204.89L463.18,204.84L463.25,204.80L463.32,204.75L463.39,204.70L463.46,204.65L463.53,204.61L463.60,204.56L463.67,204.52L463.75,204.47L463.82,204.43L463.89,204.39L464.60,203.98L465.31,203.62L466.02,203.30L466.74,203.02L467.45,202.77L468.16,202.53L468.87,202.31L469.58,202.11L470.29,201.94L471.01,201.79L471.72,201.66L472.43,201.56L473.14,201.46L473.85,201.37L474.57,201.29L475.28,201.21L475.99,201.14L476.70,201.07L477.41,201.01L478.13,200.96L478.84,200.91L479.55,200.87L480.26,200.83L480.97,200.79L481.69,200.76L482.40,200.72L483.11,200.69L483.82,200.65L484.53,200.62L485.24,200.59L485.96,200.56L486.67,200.52L487.38,200.49L488.09,200.47L488.80,200.44L489.52,200.41L490.23,200.38L490.94,200.36L491.65,200.33L492.36,200.31L493.08,200.28L493.79,200.26L494.50,200.24L495.21,200.22L495.92,200.20L496.64,200.18L497.35,200.16L498.06,200.14L498.77,200.12L499.48,200.10L500.19,200.09L500.91,200.07L501.62,200.06L502.33,200.04L503.04,200.03L503.75,200.02L504.47,200.01L505.18,200.00L505.89,199.99L506.60,199.98L507.31,199.97L508.03,199.96L508.74,199.95L509.45,199.95L510.16,199.94L510.87,199.93L511.58,199.93L512.30,199.92L513.01,199.91L513.72,199.91L514.43,199.90L515.14,199.90L515.86,199.89L516.57,199.89L517.28,199.88L517.99,199.87L518.70,199.87L519.42,199.87L520.13,199.86L520.84,199.86L521.55,199.85L522.26,199.85L522.98,199.84L523.69,199.84L524.40,199.84L525.11,199.83L525.82,199.83L526.53,199.82L527.25,199.82L527.96,199.82L528.67,199.81L529.38,199.81L530.09,199.81L530.81,199.81L531.52,199.80L532.23,199.80L532.94,199.80L533.65,199.79L534.37,199.79L535.08,199.79L535.79,199.79L536.50,199.78L537.21,199.78L537.93,199.78L538.64,199.78L539.35,199.77L540.06,199.77L540.77,199.77L541.48,199.76L542.20,199.76L542.91,199.76L543.62,199.76L544.33,199.75L545.04,199.75L545.76,199.75L546.47,199.75L547.18,199.74L547.89,199.74L548.60,199.74L549.32,199.74L550.03,199.74L550.74,199.73L551.45,199.73L552.16,199.73L552.88,199.73L553.59,199.72L554.30,199.72L555.01,199.72L555.72,199.72L556.43,199.72L557.15,199.72L557.86,199.71L558.57,199.71L559.28,199.71L559.99,199.71L560.71,199.71L561.42,199.71L562.13,199.71L562.20,199.71L562.27,199.71L562.34,199.71L562.41,199.71L562.49,199.71L562.56,199.71L562.63,199.71L562.70,199.71L562.77,199.70L562.84,199.70L562.91,199.70L562.98,199.70L563.06,199.70L563.13,199.70L563.20,199.70L563.27,199.70L563.34,199.70L563.41,199.70L563.48,199.70L563.55,199.70L563.62,199.70L563.70,199.70L563.77,199.70L563.84,199.70L563.91,199.70L563.98,199.70L564.05,199.70L564.12,199.70L564.19,199.70L564.27,199.70L564.34,199.70L564.41,199.70L564.48,199.70L564.55,199.70L564.62,199.70L564.69,199.70L564.76,199.70L564.84,199.70L564.91,199.70L564.98,199.70L565.05,199.70L565.12,199.70L565.19,199.70L565.26,199.70L565.33,199.70L565.40,199.70L565.48,199.70L565.55,199.70L565.62,199.70L565.69,199.70L565.76,199.70L565.83,199.70L565.90,199.70L565.97,199.70L566.05,199.70L566.12,199.70L566.19,199.70L566.26,199.70L566.33,199.70L566.40,199.70L566.47,199.70L566.54,199.70L566.61,199.70L566.69,199.70L566.76,199.70L566.83,199.70L566.90,199.70L566.97,199.70L567.04,199.70L567.11,199.70L567.18,199.70L567.26,199.70L567.33,199.70L567.40,199.70L567.47,199.70L567.54,199.70L567.61,199.70L567.68,199.70L567.75,199.70L567.83,199.70L567.90,199.70L567.97,199.70L568.04,199.70L568.11,199.70L568.18,199.70L568.25,199.70L568.32,199.70L568.39,199.70L568.47,199.70L568.54,199.70L568.61,199.70L568.68,199.70L568.75,199.70L568.82,199.70L568.89,199.70L568.96,199.70L569.04,199.70L569.11,199.70L569.18,199.70L569.25,199.70L569.32,199.70L569.39,199.70L569.46,199.70L569.53,199.70L569.60,199.70L569.68,199.76L569.75,200.65L569.82,202.40L569.89,204.77L569.96,207.53L570.03,210.43L570.10,213.25L570.17,215.75L570.25,217.68L570.32,219.26L570.39,220.84L570.46,222.40L570.53,223.92L570.60,225.37L570.67,226.73L570.74,227.99L570.82,229.11L570.89,230.09L570.96,230.89L571.03,231.50L571.10,231.90L571.17,232.25L571.24,232.57L571.31,232.88L571.38,233.17L571.46,233.44L571.53,233.70L571.60,233.95L571.67,234.18L571.74,234.39L571.81,234.60L571.88,234.79L571.95,234.96L572.03,235.13L572.10,235.28L572.17,235.42L572.24,235.55L572.31,235.67L572.38,235.78L572.45,235.88L572.52,235.97L572.59,236.05L572.67,236.13L572.74,236.19L572.81,236.26L572.88,236.32L572.95,236.37L573.02,236.43L573.09,236.49L573.16,236.54L573.24,236.60L573.31,236.65L573.38,236.70L573.45,236.75L573.52,236.80L573.59,236.85L573.66,236.90L573.73,236.94L573.81,236.99L573.88,237.03L573.95,237.08L574.02,237.12L574.09,237.16L574.16,237.20L574.23,237.24L574.30,237.27L574.37,237.31L574.45,237.35L574.52,237.38L574.59,237.41L574.66,237.44L574.73,237.48L574.80,237.51L574.87,237.54L574.94,237.56L575.02,237.59L575.09,237.62L575.16,237.64L575.23,237.67L575.30,237.69L575.37,237.71L575.44,237.73L575.51,237.76L575.58,237.78L575.66,237.79L575.73,237.81L575.80,237.83L575.87,237.85L575.94,237.86L576.01,237.88L576.08,237.89L576.15,237.90L576.23,237.91L576.30,237.93L576.37,237.94L576.44,237.95L576.51,237.95L576.58,237.96L576.65,237.97L576.72,237.98L576.80,237.99L576.87,237.99L576.94,238.00L577.01,238.01L577.08,238.02L577.15,238.03L577.22,238.03L577.29,238.04L577.36,238.05L577.44,238.06L577.51,238.06L577.58,238.07L577.65,238.08L577.72,238.09L577.79,238.09L577.86,238.10L577.93,238.11L578.01,238.11L578.08,238.12L578.15,238.13L578.22,238.14L578.29,238.14L578.36,238.15L578.43,238.16L578.50,238.16L578.57,238.17L578.65,238.18L578.72,238.18L578.79,238.19L578.86,238.20L578.93,238.20L579.00,238.21L579.07,238.22L579.14,238.22L579.22,238.23L579.29,238.24L579.36,238.24L579.43,238.25L579.50,238.25L579.57,238.26L579.64,238.27L579.71,238.27L579.79,238.28L579.86,238.28L579.93,238.29L580.00,238.30L580.07,238.30L580.14,238.31L580.21,238.31L580.28,238.32L580.35,238.32L580.43,238.33L580.50,238.34L580.57,238.34L580.64,238.35L580.71,238.35L580.78,238.36L580.85,238.36L581.56,238.42L582.28,238.46L582.99,238.51L583.70,238.55L584.41,238.58L585.12,238.62L585.84,238.65L586.55,238.68L587.26,238.70L587.97,238.73L588.68,238.75L589.40,238.77L590.11,238.78L590.82,238.80L591.53,238.81L592.24,238.82L592.96,238.84L593.67,238.85L594.38,238.86L595.09,238.87L595.80,238.87L596.51,238.88L597.23,238.89L597.94,238.90L598.65,238.91L599.36,238.92L600.07,238.93L600.79,238.94L601.50,238.95L602.21,238.95L602.92,238.96L603.63,238.97L604.35,238.98L605.06,238.98L605.77,238.99L606.48,239.00L607.19,239.01L607.91,239.01L608.62,239.02L609.33,239.03L610.04,239.03L610.75,239.04L611.46,239.05L612.18,239.05L612.89,239.06L613.60,239.07L614.31,239.07L615.02,239.08L615.74,239.08L616.45,239.09L617.16,239.10L617.87,239.10L618.58,239.11L619.30,239.11L620.01,239.12L620.72,239.12L621.43,239.13L622.14,239.13L622.85,239.14L623.57,239.14L624.28,239.15L624.99,239.15L625.70,239.16L626.41,239.16L627.13,239.16L627.84,239.17L628.55,239.17L629.26,239.18L629.97,239.18L630.69,239.19L631.40,239.19L632.11,239.19L632.82,239.20L633.53,239.20L634.25,239.21L634.96,239.21L635.67,239.21L636.38,239.22L637.09,239.22L637.80,239.22L638.52,239.23L639.23,239.23L639.94,239.23L640.65,239.24L641.36,239.24L642.08,239.24L642.79,239.25L643.50,239.25L644.21,239.25L644.92,239.25L645.64,239.26L646.35,239.26L647.06,239.26L647.77,239.27L648.48,239.27L649.20,239.27L649.91,239.28L650.62,239.28L651.33,239.28L652.04,239.28L652.75,239.29L653.47,239.29L654.18,239.29L654.89,239.30L655.60,239.30L656.31,239.30L657.03,239.30L657.74,239.31L658.45,239.31L659.16,239.31L659.87,239.31L660.59,239.32L661.30,239.32L662.01,239.32L662.72,239.33L663.43,239.33L664.15,239.33L664.86,239.33L665.57,239.34L666.28,239.34L666.99,239.34L667.70,239.35L668.42,239.35L669.13,239.35L669.84,239.35L670.55,239.36L671.26,239.36L671.98,239.36L672.69,239.37L673.40,239.37L674.11,239.37L674.82,239.38L675.54,239.38L676.25,239.38L676.96,239.39L677.67,239.39L678.38,239.39L679.10,239.40L679.81,239.40L680.52,239.40L681.23,239.41L681.94,239.41L682.65,239.42L683.37,239.42L684.08,239.42L684.79,239.43L685.50,239.43L686.21,239.44L686.93,239.44L687.64,239.45L688.35,239.45L689.06,239.45L689.25,239.46" stroke="#000000" stroke-width="2.20"/>
<path d="M438.90,239.72L439.61,239.72L440.32,239.72L441.04,239.72L441.75,239.72L442.46,239.72L443.17,239.72L443.88,239.72L444.60,239.72L445.31,239.72L445.38,239.72L445.45,239.72L445.52,239.72L445.59,239.72L445.66,239.72L445.73,239.72L445.81,239.72L445.88,239.72L445.95,239.72L446.02,239.72L446.09,239.72L446.16,239.72L446.23,239.72L446.30,239.72L446.37,239.72L446.45,239.72L446.52,239.72L446.59,239.72L446.66,239.72L446.73,239.72L446.80,239.72L446.87,239.72L446.94,239.72L447.02,239.72L447.09,239.72L447.16,239.72L447.23,239.72L447.30,239.72L447.37,239.72L447.44,239.72L447.51,239.72L447.59,239.72L447.66,239.72L447.73,239.72L447.80,239.72L447.87,239.72L447.94,239.72L448.01,239.72L448.08,239.72L448.15,239.72L448.23,239.72L448.30,239.72L448.37,239.72L448.44,239.72L448.51,239.72L448.58,239.72L448.65,239.72L448.72,239.72L448.80,239.72L448.87,239.72L448.94,239.72L449.01,239.72L449.08,239.72L449.15,239.72L449.22,239.72L449.29,239.72L449.36,239.72L449.44,239.72L449.51,239.72L449.58,239.72L449.65,239.72L449.72,239.72L449.79,239.72L449.86,239.72L449.93,239.72L450.01,239.72L450.08,239.72L450.15,239.72L450.22,239.72L450.29,239.72L450.36,239.72L450.43,239.72L450.50,239.72L450.58,239.72L450.65,239.72L450.72,239.72L450.79,239.72L450.86,239.72L450.93,239.72L451.00,239.72L451.07,239.27L451.14,237.99L451.22,236.01L451.29,233.46L451.36,230.45L451.43,227.12L451.50,223.58L451.57,219.96L451.64,216.39L451.71,212.99L451.79,209.88L451.86,207.19L451.93,205.04L452.00,203.40L452.07,201.85L452.14,200.35L452.21,198.90L452.28,197.50L452.35,196.15L452.43,194.84L452.50,193.58L452.57,192.36L452.64,191.18L452.71,190.05L452.78,188.96L452.85,187.91L452.92,186.90L453.00,185.92L453.07,184.98L453.14,184.08L453.21,183.21L453.28,182.38L453.35,181.58L453.42,180.81L453.49,180.07L453.57,179.35L453.64,178.67L453.71,178.03L453.78,177.42L453.85,176.85L453.92,176.31L453.99,175.80L454.06,175.31L454.13,174.84L454.21,174.39L454.28,173.95L454.35,173.53L454.42,173.11L454.49,172.69L454.56,172.28L454.63,171.86L454.70,171.44L454.78,171.01L454.85,170.56L454.92,170.10L454.99,169.62L455.06,169.12L455.13,168.59L455.20,168.03L455.27,167.44L455.34,166.77L455.42,166.00L455.49,165.17L455.56,164.30L455.63,163.42L455.70,162.57L455.77,161.76L455.84,161.03L455.91,160.42L455.99,159.94L456.06,159.56L456.13,159.18L456.20,158.82L456.27,158.47L456.34,158.13L456.41,157.81L456.48,157.50L456.56,157.19L456.63,156.90L456.70,156.62L456.77,156.35L456.84,156.09L456.91,155.83L456.98,155.59L457.05,155.35L457.12,155.12L457.20,154.89L457.27,154.68L457.34,154.47L457.41,154.26L457.48,154.06L457.55,153.86L457.62,153.67L457.69,153.49L457.77,153.30L457.84,153.12L457.91,152.94L457.98,152.76L458.05,152.59L458.12,152.42L458.19,152.24L458.26,152.07L458.33,151.90L458.41,151.72L458.48,151.55L458.55,151.37L458.62,151.19L458.69,151.01L458.76,150.83L458.83,150.64L458.90,150.45L458.98,150.25L459.05,150.05L459.12,149.85L459.19,149.64L459.26,149.44L459.33,149.23L459.40,149.02L459.47,148.82L459.55,148.61L459.62,148.40L459.69,148.20L459.76,147.99L459.83,147.78L459.90,147.58L459.97,147.37L460.04,147.17L460.11,146.96L460.19,146.76L460.26,146.55L460.33,146.35L460.40,146.15L460.47,145.94L460.54,145.74L460.61,145.54L460.68,145.34L460.76,145.15L460.83,144.95L460.90,144.76L460.97,144.56L461.04,144.37L461.11,144.18L461.18,143.99L461.25,143.80L461.32,143.61L461.40,143.43L461.47,143.25L461.54,143.07L461.61,142.89L461.68,142.71L461.75,142.54L461.82,142.36L461.89,142.19L461.97,142.03L462.04,141.86L462.11,141.70L462.18,141.54L462.25,141.38L462.32,141.23L462.39,141.08L462.46,140.93L462.54,140.78L462.61,140.64L462.68,140.50L462.75,140.36L462.82,140.23L462.89,140.10L462.96,139.98L463.03,139.85L463.10,139.73L463.18,139.61L463.25,139.49L463.32,139.37L463.39,139.25L463.46,139.13L463.53,139.01L463.60,138.89L463.67,138.77L463.75,138.66L463.82,138.54L463.89,138.43L464.60,137.33L465.31,136.32L466.02,135.40L466.74,134.60L467.45,133.92L468.16,133.36L468.87,132.88L469.58,132.43L470.29,132.01L471.01,131.63L471.72,131.28L472.43,130.96L473.14,130.67L473.85,130.42L474.57,130.20L475.28,130.01L475.99,129.85L476.70,129.70L477.41,129.56L478.13,129.42L478.84,129.29L479.55,129.17L480.26,129.06L480.97,128.95L481.69,128.85L482.40,128.76L483.11,128.67L483.82,128.58L484.53,128.50L485.24,128.42L485.96,128.34L486.67,128.27L487.38,128.19L488.09,128.12L488.80,128.05L489.52,127.98L490.23,127.92L490.94,127.85L491.65,127.78L492.36,127.71L493.08,127.65L493.79,127.58L494.50,127.52L495.21,127.46L495.92,127.40L496.64,127.34L497.35,127.28L498.06,127.22L498.77,127.16L499.48,127.11L500.19,127.06L500.91,127.00L501.62,126.96L502.33,126.91L503.04,126.86L503.75,126.82L504.47,126.77L505.18,126.73L505.89,126.70L506.60,126.66L507.31,126.63L508.03,126.60L508.74,126.57L509.45,126.54L510.16,126.52L510.87,126.49L511.58,126.47L512.30,126.44L513.01,126.42L513.72,126.40L514.43,126.37L515.14,126.35L515.86,126.33L516.57,126.31L517.28,126.28L517.99,126.26L518.70,126.24L519.42,126.22L520.13,126.20L520.84,126.18L521.55,126.16L522.26,126.14L522.98,126.12L523.69,126.10L524.40,126.08L525.11,126.07L525.82,126.05L526.53,126.03L527.25,126.02L527.96,126.00L528.67,125.99L529.38,125.97L530.09,125.96L530.81,125.95L531.52,125.93L532.23,125.92L532.94,125.91L533.65,125.90L534.37,125.89L535.08,125.88L535.79,125.87L536.50,125.86L537.21,125.86L537.93,125.85L538.64,125.85L539.35,125.84L540.06,125.84L540.77,125.83L541.48,125.83L542.20,125.83L542.91,125.83L543.62,125.83L544.33,125.83L545.04,125.83L545.76,125.83L546.47,125.83L547.18,125.83L547.89,125.83L548.60,125.83L549.32,125.83L550.03,125.83L550.74,125.83L551.45,125.83L552.16,125.83L552.88,125.83L553.59,125.83L554.30,125.83L555.01,125.83L555.72,125.83L556.43,125.83L557.15,125.83L557.86,125.83L558.57,125.83L559.28,125.83L559.99,125.83L560.71,125.83L561.42,125.83L562.13,125.83L562.20,125.83L562.27,125.83L562.34,125.83L562.41,125.83L562.49,125.83L562.56,125.83L562.63,125.83L562.70,125.83L562.77,125.83L562.84,125.83L562.91,125.83L562.98,125.83L563.06,125.83L563.13,125.83L563.20,125.83L563.27,125.83L563.34,125.83L563.41,125.83L563.48,125.83L563.55,125.83L563.62,125.83L563.70,125.83L563.77,125.83L563.84,125.83L563.91,125.83L563.98,125.83L564.05,125.83L564.12,125.83L564.19,125.83L564.27,125.83L564.34,125.83L564.41,125.83L564.48,125.83L564.55,125.83L564.62,125.83L564.69,125.83L564.76,125.83L564.84,125.83L564.91,125.83L564.98,125.83L565.05,125.83L565.12,125.83L565.19,125.83L565.26,125.83L565.33,125.83L565.40,125.83L565.48,125.83L565.55,125.83L565.62,125.83L565.69,125.83L565.76,125.83L565.83,125.83L565.90,125.83L565.97,125.83L566.05,125.83L566.12,125.83L566.19,125.83L566.26,125.83L566.33,125.83L566.40,125.83L566.47,125.83L566.54,125.83L566.61,125.83L566.69,125.83L566.76,125.83L566.83,125.83L566.90,125.83L566.97,125.83L567.04,125.83L567.11,125.83L567.18,125.83L567.26,125.83L567.33,125.83L567.40,125.83L567.47,125.83L567.54,125.83L567.61,125.83L567.68,125.83L567.75,125.83L567.83,125.83L567.90,125.83L567.97,125.83L568.04,125.83L568.11,125.83L568.18,125.83L568.25,126.03L568.32,128.80L568.39,134.20L568.47,141.46L568.54,149.78L568.61,158.39L568.68,166.48L568.75,173.29L568.82,178.01L568.89,181.38L568.96,184.63L569.04,187.76L569.11,190.76L569.18,193.63L569.25,196.37L569.32,198.97L569.39,201.43L569.46,203.75L569.53,205.92L569.60,207.93L569.68,209.79L569.75,211.49L569.82,213.02L569.89,214.39L569.96,215.58L570.03,216.60L570.10,217.44L570.17,218.14L570.25,218.80L570.32,219.43L570.39,220.05L570.46,220.64L570.53,221.21L570.60,221.76L570.67,222.29L570.74,222.80L570.82,223.28L570.89,223.75L570.96,224.19L571.03,224.62L571.10,225.02L571.17,225.41L571.24,225.78L571.31,226.13L571.38,226.46L571.46,226.77L571.53,227.06L571.60,227.34L571.67,227.60L571.74,227.84L571.81,228.07L571.88,228.28L571.95,228.47L572.03,228.65L572.10,228.82L572.17,228.97L572.24,229.10L572.31,229.22L572.38,229.34L572.45,229.46L572.52,229.57L572.59,229.68L572.67,229.79L572.74,229.90L572.81,230.01L572.88,230.11L572.95,230.21L573.02,230.30L573.09,230.40L573.16,230.49L573.24,230.58L573.31,230.67L573.38,230.76L573.45,230.84L573.52,230.93L573.59,231.01L573.66,231.09L573.73,231.16L573.81,231.24L573.88,231.31L573.95,231.38L574.02,231.45L574.09,231.52L574.16,231.59L574.23,231.65L574.30,231.72L574.37,231.78L574.45,231.84L574.52,231.90L574.59,231.95L574.66,232.01L574.73,232.06L574.80,232.12L574.87,232.17L574.94,232.22L575.02,232.27L575.09,232.32L575.16,232.36L575.23,232.41L575.30,232.46L575.37,232.50L575.44,232.54L575.51,232.58L575.58,232.63L575.66,232.67L575.73,232.71L575.80,232.74L575.87,232.78L575.94,232.82L576.01,232.86L576.08,232.89L576.15,232.93L576.23,232.96L576.30,233.00L576.37,233.03L576.44,233.06L576.51,233.10L576.58,233.13L576.65,233.16L576.72,233.20L576.80,233.23L576.87,233.26L576.94,233.29L577.01,233.32L577.08,233.35L577.15,233.38L577.22,233.41L577.29,233.44L577.36,233.47L577.44,233.50L577.51,233.53L577.58,233.56L577.65,233.59L577.72,233.62L577.79,233.65L577.86,233.68L577.93,233.71L578.01,233.73L578.08,233.76L578.15,233.79L578.22,233.82L578.29,233.84L578.36,233.87L578.43,233.90L578.50,233.92L578.57,233.95L578.65,233.98L578.72,234.00L578.79,234.03L578.86,234.05L578.93,234.08L579.00,234.10L579.07,234.13L579.14,234.15L579.22,234.18L579.29,234.20L579.36,234.23L579.43,234.25L579.50,234.27L579.57,234.30L579.64,234.32L579.71,234.34L579.79,234.37L579.86,234.39L579.93,234.41L580.00,234.43L580.07,234.45L580.14,234.48L580.21,234.50L580.28,234.52L580.35,234.54L580.43,234.56L580.50,234.58L580.57,234.60L580.64,234.62L580.71,234.64L580.78,234.66L580.85,234.69L581.56,234.88L582.28,235.05L582.99,235.21L583.70,235.36L584.41,235.49L585.12,235.61L585.84,235.72L586.55,235.83L587.26,235.93L587.97,236.03L588.68,236.12L589.40,236.21L590.11,236.30L590.82,236.38L591.53,236.46L592.24,236.54L592.96,236.62L593.67,236.69L594.38,236.76L595.09,236.83L595.80,236.89L596.51,236.95L597.23,237.01L597.94,237.07L598.65,237.12L599.36,237.17L600.07,237.22L600.79,237.27L601.50,237.32L602.21,237.36L602.92,237.40L603.63,237.44L604.35,237.48L605.06,237.52L605.77,237.55L606.48,237.59L607.19,237.62L607.91,237.66L608.62,237.69L609.33,237.72L610.04,237.75L610.75,237.78L611.46,237.82L612.18,237.85L612.89,237.87L613.60,237.90L614.31,237.93L615.02,237.96L615.74,237.99L616.45,238.01L617.16,238.04L617.87,238.07L618.58,238.09L619.30,238.12L620.01,238.14L620.72,238.16L621.43,238.19L622.14,238.21L622.85,238.23L623.57,238.25L624.28,238.27L624.99,238.30L625.70,238.32L626.41,238.34L627.13,238.36L627.84,238.38L628.55,238.39L629.26,238.41L629.97,238.43L630.69,238.45L631.40,238.47L632.11,238.48L632.82,238.50L633.53,238.52L634.25,238.53L634.96,238.55L635.67,238.56L636.38,238.58L637.09,238.59L637.80,238.61L638.52,238.62L639.23,238.64L639.94,238.65L640.65,238.66L641.36,238.68L642.08,238.69L642.79,238.70L643.50,238.71L644.21,238.73L644.92,238.74L645.64,238.75L646.35,238.76L647.06,238.77L647.77,238.78L648.48,238.79L649.20,238.81L649.91,238.82L650.62,238.83L651.33,238.84L652.04,238.85L652.75,238.86L653.47,238.87L654.18,238.88L654.89,238.89L655.60,238.89L656.31,238.90L657.03,238.91L657.74,238.92L658.45,238.93L659.16,238.94L659.87,238.95L660.59,238.96L661.30,238.97L662.01,238.97L662.72,238.98L663.43,238.99L664.15,239.00L664.86,239.01L665.57,239.01L666.28,239.02L666.99,239.03L667.70,239.04L668.42,239.05L669.13,239.05L669.84,239.06L670.55,239.07L671.26,239.08L671.98,239.08L672.69,239.09L673.40,239.10L674.11,239.11L674.82,239.11L675.54,239.12L676.25,239.13L676.96,239.14L677.67,239.14L678.38,239.15L679.10,239.16L679.81,239.17L680.52,239.18L681.23,239.18L681.94,239.19L682.65,239.20L683.37,239.21L684.08,239.22L684.79,239.22L685.50,239.23L686.21,239.24L686.93,239.25L687.64,239.26L688.35,239.27L689.06,239.28L689.25,239.28" stroke="#ee3338" stroke-width="2.30"/>
<path d="M438.90,238.66L439.61,238.66L440.32,238.66L441.04,238.66L441.75,238.66L442.46,238.66L443.17,238.66L443.88,238.66L444.60,238.66L445.31,238.66L445.38,238.66L445.45,238.66L445.52,238.66L445.59,238.66L445.66,238.66L445.73,238.66L445.81,238.66L445.88,238.66L445.95,238.66L446.02,238.66L446.09,238.66L446.16,238.66L446.23,238.66L446.30,238.66L446.37,238.66L446.45,238.66L446.52,238.66L446.59,238.66L446.66,238.66L446.73,238.66L446.80,238.66L446.87,238.66L446.94,238.66L447.02,238.66L447.09,238.66L447.16,238.66L447.23,238.66L447.30,238.66L447.37,238.66L447.44,238.66L447.51,238.66L447.59,238.66L447.66,238.66L447.73,238.66L447.80,238.66L447.87,238.66L447.94,238.66L448.01,238.66L448.08,238.66L448.15,238.66L448.23,238.66L448.30,238.66L448.37,238.66L448.44,238.66L448.51,238.66L448.58,238.66L448.65,238.66L448.72,238.66L448.80,238.66L448.87,238.66L448.94,238.66L449.01,238.66L449.08,238.66L449.15,238.66L449.22,238.66L449.29,238.66L449.36,238.66L449.44,238.66L449.51,238.66L449.58,238.66L449.65,238.66L449.72,238.66L449.79,238.66L449.86,238.66L449.93,238.66L450.01,238.66L450.08,238.66L450.15,238.66L450.22,238.66L450.29,238.66L450.36,238.66L450.43,238.66L450.50,238.66L450.58,238.66L450.65,238.66L450.72,238.66L450.79,238.55L450.86,237.02L450.93,233.95L451.00,229.67L451.07,224.54L451.14,218.88L451.22,213.05L451.29,207.38L451.36,202.21L451.43,197.89L451.50,194.68L451.57,191.89L451.64,189.24L451.71,186.72L451.79,184.32L451.86,182.03L451.93,179.84L452.00,177.74L452.07,175.72L452.14,173.76L452.21,171.85L452.28,169.99L452.35,168.17L452.43,166.37L452.50,164.58L452.57,162.79L452.64,160.99L452.71,159.19L452.78,157.43L452.85,155.71L452.92,154.03L453.00,152.39L453.07,150.78L453.14,149.19L453.21,147.63L453.28,146.09L453.35,144.56L453.42,143.03L453.49,141.52L453.57,140.00L453.64,138.49L453.71,136.96L453.78,135.43L453.85,133.86L453.92,132.25L453.99,130.60L454.06,128.90L454.13,127.17L454.21,125.41L454.28,123.64L454.35,121.85L454.42,120.06L454.49,118.27L454.56,116.49L454.63,114.73L454.70,112.99L454.78,111.28L454.85,109.60L454.92,107.97L454.99,106.39L455.06,104.87L455.13,103.41L455.20,102.03L455.27,100.72L455.34,99.49L455.42,98.36L455.49,97.33L455.56,96.40L455.63,95.58L455.70,94.89L455.77,94.26L455.84,93.64L455.91,93.03L455.99,92.43L456.06,91.84L456.13,91.25L456.20,90.68L456.27,90.11L456.34,89.56L456.41,89.01L456.48,88.47L456.56,87.93L456.63,87.41L456.70,86.89L456.77,86.39L456.84,85.89L456.91,85.39L456.98,84.91L457.05,84.43L457.12,83.97L457.20,83.51L457.27,83.05L457.34,82.61L457.41,82.17L457.48,81.74L457.55,81.32L457.62,80.90L457.69,80.49L457.77,80.09L457.84,79.70L457.91,79.31L457.98,78.93L458.05,78.55L458.12,78.19L458.19,77.83L458.26,77.47L458.33,77.13L458.41,76.79L458.48,76.45L458.55,76.12L458.62,75.80L458.69,75.49L458.76,75.18L458.83,74.87L458.90,74.58L458.98,74.29L459.05,74.00L459.12,73.72L459.19,73.45L459.26,73.18L459.33,72.91L459.40,72.66L459.47,72.40L459.55,72.16L459.62,71.92L459.69,71.68L459.76,71.45L459.83,71.22L459.90,71.00L459.97,70.79L460.04,70.57L460.11,70.37L460.19,70.17L460.26,69.97L460.33,69.77L460.40,69.59L460.47,69.40L460.54,69.22L460.61,69.05L460.68,68.88L460.76,68.71L460.83,68.54L460.90,68.39L460.97,68.23L461.04,68.08L461.11,67.93L461.18,67.79L461.25,67.65L461.32,67.51L461.40,67.37L461.47,67.23L461.54,67.10L461.61,66.97L461.68,66.84L461.75,66.71L461.82,66.58L461.89,66.45L461.97,66.33L462.04,66.21L462.11,66.09L462.18,65.97L462.25,65.85L462.32,65.73L462.39,65.62L462.46,65.51L462.54,65.40L462.61,65.29L462.68,65.18L462.75,65.07L462.82,64.96L462.89,64.86L462.96,64.76L463.03,64.66L463.10,64.56L463.18,64.46L463.25,64.36L463.32,64.27L463.39,64.17L463.46,64.08L463.53,63.99L463.60,63.90L463.67,63.81L463.75,63.72L463.82,63.63L463.89,63.55L464.60,62.76L465.31,62.09L466.02,61.51L466.74,61.01L467.45,60.54L468.16,60.10L468.87,59.69L469.58,59.30L470.29,58.94L471.01,58.60L471.72,58.29L472.43,58.00L473.14,57.75L473.85,57.51L474.57,57.31L475.28,57.13L475.99,56.97L476.70,56.83L477.41,56.69L478.13,56.57L478.84,56.44L479.55,56.32L480.26,56.21L480.97,56.10L481.69,56.00L482.40,55.90L483.11,55.81L483.82,55.72L484.53,55.64L485.24,55.56L485.96,55.49L486.67,55.42L487.38,55.35L488.09,55.29L488.80,55.24L489.52,55.18L490.23,55.13L490.94,55.08L491.65,55.04L492.36,55.00L493.08,54.96L493.79,54.92L494.50,54.88L495.21,54.84L495.92,54.80L496.64,54.76L497.35,54.72L498.06,54.68L498.77,54.65L499.48,54.61L500.19,54.58L500.91,54.54L501.62,54.51L502.33,54.48L503.04,54.45L503.75,54.42L504.47,54.39L505.18,54.37L505.89,54.34L506.60,54.32L507.31,54.30L508.03,54.27L508.74,54.26L509.45,54.24L510.16,54.22L510.87,54.21L511.58,54.20L512.30,54.19L513.01,54.18L513.72,54.17L514.43,54.17L515.14,54.16L515.86,54.16L516.57,54.16L517.28,54.16L517.99,54.17L518.70,54.17L519.42,54.17L520.13,54.17L520.84,54.17L521.55,54.17L522.26,54.17L522.98,54.17L523.69,54.18L524.40,54.18L525.11,54.18L525.82,54.18L526.53,54.19L527.25,54.19L527.96,54.19L528.67,54.19L529.38,54.20L530.09,54.20L530.81,54.20L531.52,54.21L532.23,54.21L532.94,54.21L533.65,54.22L534.37,54.22L535.08,54.23L535.79,54.23L536.50,54.23L537.21,54.24L537.93,54.24L538.64,54.25L539.35,54.25L540.06,54.26L540.77,54.26L541.48,54.26L542.20,54.27L542.91,54.27L543.62,54.27L544.33,54.28L545.04,54.28L545.76,54.28L546.47,54.29L547.18,54.29L547.89,54.30L548.60,54.30L549.32,54.31L550.03,54.31L550.74,54.32L551.45,54.33L552.16,54.34L552.88,54.34L553.59,54.35L554.30,54.36L555.01,54.38L555.72,54.39L556.43,54.40L557.15,54.42L557.86,54.43L558.57,54.45L559.28,54.47L559.99,54.49L560.71,54.51L561.42,54.53L562.13,54.56L562.20,54.56L562.27,54.56L562.34,54.56L562.41,54.57L562.49,54.57L562.56,54.57L562.63,54.58L562.70,54.58L562.77,54.58L562.84,54.58L562.91,54.59L562.98,54.59L563.06,54.59L563.13,54.59L563.20,54.60L563.27,54.60L563.34,54.60L563.41,54.61L563.48,54.61L563.55,54.61L563.62,54.61L563.70,54.62L563.77,54.62L563.84,54.62L563.91,54.63L563.98,54.63L564.05,54.63L564.12,54.63L564.19,54.64L564.27,54.64L564.34,54.64L564.41,54.65L564.48,54.65L564.55,54.65L564.62,54.66L564.69,54.66L564.76,54.66L564.84,54.67L564.91,54.67L564.98,54.67L565.05,54.68L565.12,54.68L565.19,54.68L565.26,54.69L565.33,54.69L565.40,54.69L565.48,54.70L565.55,54.70L565.62,54.70L565.69,54.71L565.76,54.71L565.83,54.71L565.90,54.72L565.97,54.72L566.05,54.72L566.12,54.73L566.19,54.73L566.26,54.73L566.33,54.74L566.40,54.74L566.47,54.75L566.54,54.75L566.61,54.75L566.69,54.76L566.76,54.76L566.83,54.76L566.90,54.77L566.97,54.77L567.04,54.78L567.11,54.78L567.18,54.78L567.26,54.79L567.33,54.79L567.40,54.79L567.47,54.80L567.54,54.80L567.61,54.81L567.68,54.81L567.75,54.81L567.83,54.82L567.90,54.82L567.97,54.83L568.04,54.83L568.11,54.84L568.18,54.84L568.25,54.84L568.32,54.85L568.39,54.85L568.47,54.86L568.54,54.86L568.61,54.87L568.68,54.87L568.75,54.87L568.82,54.88L568.89,54.88L568.96,54.89L569.04,54.89L569.11,54.90L569.18,54.90L569.25,54.90L569.32,54.91L569.39,54.91L569.46,54.92L569.53,54.92L569.60,54.93L569.68,54.93L569.75,54.94L569.82,54.94L569.89,54.95L569.96,54.95L570.03,54.96L570.10,54.96L570.17,54.97L570.25,54.97L570.32,54.98L570.39,54.98L570.46,54.98L570.53,54.99L570.60,54.99L570.67,55.00L570.74,55.00L570.82,55.01L570.89,55.01L570.96,55.02L571.03,55.03L571.10,55.03L571.17,55.04L571.24,55.04L571.31,55.05L571.38,56.84L571.46,61.77L571.53,69.17L571.60,78.36L571.67,88.69L571.74,99.48L571.81,110.07L571.88,119.79L571.95,127.97L572.03,133.94L572.10,138.53L572.17,143.02L572.24,147.39L572.31,151.65L572.38,155.79L572.45,159.80L572.52,163.67L572.59,167.41L572.67,171.02L572.74,174.47L572.81,177.78L572.88,180.93L572.95,183.93L573.02,186.76L573.09,189.42L573.16,191.91L573.24,194.23L573.31,196.36L573.38,198.30L573.45,200.05L573.52,201.61L573.59,202.97L573.66,204.12L573.73,205.11L573.81,206.05L573.88,206.98L573.95,207.87L574.02,208.74L574.09,209.59L574.16,210.41L574.23,211.21L574.30,211.98L574.37,212.73L574.45,213.45L574.52,214.15L574.59,214.83L574.66,215.48L574.73,216.11L574.80,216.72L574.87,217.31L574.94,217.87L575.02,218.41L575.09,218.92L575.16,219.42L575.23,219.89L575.30,220.35L575.37,220.78L575.44,221.19L575.51,221.58L575.58,221.95L575.66,222.30L575.73,222.63L575.80,222.94L575.87,223.22L575.94,223.49L576.01,223.74L576.08,223.98L576.15,224.19L576.23,224.38L576.30,224.56L576.37,224.72L576.44,224.89L576.51,225.04L576.58,225.20L576.65,225.36L576.72,225.51L576.80,225.65L576.87,225.80L576.94,225.94L577.01,226.08L577.08,226.22L577.15,226.36L577.22,226.49L577.29,226.62L577.36,226.75L577.44,226.88L577.51,227.00L577.58,227.12L577.65,227.24L577.72,227.35L577.79,227.47L577.86,227.58L577.93,227.69L578.01,227.80L578.08,227.90L578.15,228.01L578.22,228.11L578.29,228.21L578.36,228.31L578.43,228.40L578.50,228.49L578.57,228.59L578.65,228.68L578.72,228.76L578.79,228.85L578.86,228.93L578.93,229.02L579.00,229.10L579.07,229.18L579.14,229.25L579.22,229.33L579.29,229.40L579.36,229.47L579.43,229.55L579.50,229.62L579.57,229.68L579.64,229.75L579.71,229.81L579.79,229.88L579.86,229.94L579.93,230.00L580.00,230.06L580.07,230.12L580.14,230.18L580.21,230.23L580.28,230.29L580.35,230.34L580.43,230.39L580.50,230.45L580.57,230.50L580.64,230.54L580.71,230.59L580.78,230.64L580.85,230.69L581.56,231.11L582.28,231.48L582.99,231.82L583.70,232.13L584.41,232.42L585.12,232.68L585.84,232.92L586.55,233.14L587.26,233.35L587.97,233.54L588.68,233.72L589.40,233.88L590.11,234.04L590.82,234.19L591.53,234.34L592.24,234.49L592.96,234.63L593.67,234.77L594.38,234.89L595.09,235.02L595.80,235.14L596.51,235.25L597.23,235.36L597.94,235.47L598.65,235.57L599.36,235.67L600.07,235.77L600.79,235.86L601.50,235.95L602.21,236.04L602.92,236.12L603.63,236.21L604.35,236.29L605.06,236.38L605.77,236.46L606.48,236.54L607.19,236.62L607.91,236.70L608.62,236.79L609.33,236.87L610.04,236.94L610.75,237.02L611.46,237.10L612.18,237.17L612.89,237.24L613.60,237.31L614.31,237.38L615.02,237.44L615.74,237.50L616.45,237.56L617.16,237.61L617.87,237.66L618.58,237.71L619.30,237.75L620.01,237.78L620.72,237.82L621.43,237.85L622.14,237.88L622.85,237.91L623.57,237.95L624.28,237.98L624.99,238.01L625.70,238.03L626.41,238.06L627.13,238.09L627.84,238.12L628.55,238.14L629.26,238.17L629.97,238.20L630.69,238.22L631.40,238.24L632.11,238.27L632.82,238.29L633.53,238.31L634.25,238.33L634.96,238.36L635.67,238.38L636.38,238.40L637.09,238.42L637.80,238.44L638.52,238.45L639.23,238.47L639.94,238.49L640.65,238.51L641.36,238.53L642.08,238.54L642.79,238.56L643.50,238.58L644.21,238.59L644.92,238.61L645.64,238.62L646.35,238.64L647.06,238.65L647.77,238.66L648.48,238.68L649.20,238.69L649.91,238.70L650.62,238.72L651.33,238.73L652.04,238.74L652.75,238.76L653.47,238.77L654.18,238.78L654.89,238.79L655.60,238.80L656.31,238.81L657.03,238.82L657.74,238.83L658.45,238.84L659.16,238.85L659.87,238.86L660.59,238.87L661.30,238.88L662.01,238.89L662.72,238.90L663.43,238.91L664.15,238.92L664.86,238.93L665.57,238.94L666.28,238.94L666.99,238.95L667.70,238.96L668.42,238.97L669.13,238.98L669.84,238.98L670.55,238.99L671.26,239.00L671.98,239.01L672.69,239.01L673.40,239.02L674.11,239.03L674.82,239.04L675.54,239.04L676.25,239.05L676.96,239.06L677.67,239.07L678.38,239.07L679.10,239.08L679.81,239.09L680.52,239.09L681.23,239.10L681.94,239.11L682.65,239.12L683.37,239.12L684.08,239.13L684.79,239.14L685.50,239.15L686.21,239.16L686.93,239.16L687.64,239.17L688.35,239.18L689.06,239.19L689.25,239.19" stroke="#1a64e6" stroke-width="1.90"/>
<path d="M438.90,239.72L439.61,239.72L440.32,239.72L441.04,239.72L441.75,239.72L442.46,239.72L443.17,239.72L443.88,239.72L444.60,239.72L445.31,239.72L445.38,239.72L445.45,239.72L445.52,239.72L445.59,239.72L445.66,239.72L445.73,239.72L445.81,239.72L445.88,239.72L445.95,239.72L446.02,239.72L446.09,239.72L446.16,239.72L446.23,239.72L446.30,239.72L446.37,239.72L446.45,239.72L446.52,239.72L446.59,239.72L446.66,239.72L446.73,239.72L446.80,239.72L446.87,239.72L446.94,239.72L447.02,239.72L447.09,239.72L447.16,239.72L447.23,239.72L447.30,239.72L447.37,239.72L447.44,239.72L447.51,239.72L447.59,239.72L447.66,239.72L447.73,239.72L447.80,239.72L447.87,239.72L447.94,239.72L448.01,239.72L448.08,239.72L448.15,239.72L448.23,239.72L448.30,239.72L448.37,239.72L448.44,239.72L448.51,239.72L448.58,239.72L448.65,239.72L448.72,239.72L448.80,239.72L448.87,239.72L448.94,239.72L449.01,239.72L449.08,239.72L449.15,239.72L449.22,239.72L449.29,239.72L449.36,239.72L449.44,239.72L449.51,239.72L449.58,239.72L449.65,239.72L449.72,239.72L449.79,239.72L449.86,239.72L449.93,239.72L450.01,239.72L450.08,239.72L450.15,239.72L450.22,239.72L450.29,239.72L450.36,239.72L450.43,239.72L450.50,239.72L450.58,239.72L450.65,239.72L450.72,236.54L450.79,228.41L450.86,217.46L450.93,205.83L451.00,195.64L451.07,186.40L451.14,176.49L451.22,166.44L451.29,156.74L451.36,147.92L451.43,140.47L451.50,134.91L451.57,130.61L451.64,126.59L451.71,122.84L451.79,119.36L451.86,116.14L451.93,113.17L452.00,110.44L452.07,107.95L452.14,105.68L452.21,103.62L452.28,101.78L452.35,100.13L452.43,98.68L452.50,97.36L452.57,96.12L452.64,94.94L452.71,93.84L452.78,92.80L452.85,91.82L452.92,90.89L453.00,90.00L453.07,89.16L453.14,88.36L453.21,87.60L453.28,86.86L453.35,86.15L453.42,85.46L453.49,84.78L453.57,84.11L453.64,83.45L453.71,82.79L453.78,82.12L453.85,81.45L453.92,80.76L453.99,80.06L454.06,79.33L454.13,78.59L454.21,77.85L454.28,77.10L454.35,76.34L454.42,75.58L454.49,74.81L454.56,74.05L454.63,73.29L454.70,72.53L454.78,71.77L454.85,71.02L454.92,70.28L454.99,69.55L455.06,68.83L455.13,68.12L455.20,67.43L455.27,66.76L455.34,66.10L455.42,65.46L455.49,64.84L455.56,64.24L455.63,63.67L455.70,63.12L455.77,62.61L455.84,62.12L455.91,61.66L455.99,61.23L456.06,60.84L456.13,60.49L456.20,60.17L456.27,59.89L456.34,59.64L456.41,59.40L456.48,59.17L456.56,58.94L456.63,58.72L456.70,58.51L456.77,58.30L456.84,58.09L456.91,57.89L456.98,57.69L457.05,57.50L457.12,57.31L457.20,57.13L457.27,56.95L457.34,56.78L457.41,56.61L457.48,56.45L457.55,56.28L457.62,56.13L457.69,55.97L457.77,55.82L457.84,55.68L457.91,55.53L457.98,55.39L458.05,55.26L458.12,55.12L458.19,54.99L458.26,54.87L458.33,54.74L458.41,54.62L458.48,54.50L458.55,54.38L458.62,54.27L458.69,54.16L458.76,54.05L458.83,53.94L458.90,53.83L458.98,53.73L459.05,53.62L459.12,53.52L459.19,53.42L459.26,53.32L459.33,53.22L459.40,53.13L459.47,53.03L459.55,52.93L459.62,52.84L459.69,52.75L459.76,52.65L459.83,52.56L459.90,52.47L459.97,52.37L460.04,52.28L460.11,52.19L460.19,52.10L460.26,52.01L460.33,51.92L460.40,51.83L460.47,51.74L460.54,51.65L460.61,51.56L460.68,51.47L460.76,51.39L460.83,51.30L460.90,51.21L460.97,51.13L461.04,51.04L461.11,50.96L461.18,50.88L461.25,50.79L461.32,50.71L461.40,50.63L461.47,50.55L461.54,50.47L461.61,50.39L461.68,50.31L461.75,50.24L461.82,50.16L461.89,50.08L461.97,50.01L462.04,49.93L462.11,49.86L462.18,49.78L462.25,49.71L462.32,49.64L462.39,49.57L462.46,49.50L462.54,49.43L462.61,49.36L462.68,49.29L462.75,49.23L462.82,49.16L462.89,49.10L462.96,49.03L463.03,48.97L463.10,48.91L463.18,48.85L463.25,48.79L463.32,48.73L463.39,48.67L463.46,48.61L463.53,48.55L463.60,48.50L463.67,48.44L463.75,48.39L463.82,48.34L463.89,48.28L464.60,47.82L465.31,47.47L466.02,47.16L466.74,46.87L467.45,46.61L468.16,46.36L468.87,46.13L469.58,45.92L470.29,45.73L471.01,45.54L471.72,45.37L472.43,45.22L473.14,45.07L473.85,44.93L474.57,44.79L475.28,44.67L475.99,44.54L476.70,44.42L477.41,44.31L478.13,44.20L478.84,44.09L479.55,43.98L480.26,43.88L480.97,43.79L481.69,43.69L482.40,43.60L483.11,43.51L483.82,43.43L484.53,43.35L485.24,43.27L485.96,43.19L486.67,43.12L487.38,43.05L488.09,42.98L488.80,42.92L489.52,42.86L490.23,42.80L490.94,42.75L491.65,42.70L492.36,42.65L493.08,42.60L493.79,42.55L494.50,42.51L495.21,42.46L495.92,42.42L496.64,42.37L497.35,42.33L498.06,42.29L498.77,42.25L499.48,42.21L500.19,42.17L500.91,42.13L501.62,42.10L502.33,42.06L503.04,42.03L503.75,41.99L504.47,41.96L505.18,41.93L505.89,41.90L506.60,41.87L507.31,41.84L508.03,41.81L508.74,41.78L509.45,41.75L510.16,41.73L510.87,41.70L511.58,41.68L512.30,41.65L513.01,41.63L513.72,41.61L514.43,41.59L515.14,41.57L515.86,41.55L516.57,41.53L517.28,41.51L517.99,41.50L518.70,41.48L519.42,41.46L520.13,41.45L520.84,41.43L521.55,41.42L522.26,41.40L522.98,41.39L523.69,41.37L524.40,41.36L525.11,41.35L525.82,41.33L526.53,41.32L527.25,41.31L527.96,41.29L528.67,41.28L529.38,41.27L530.09,41.26L530.81,41.25L531.52,41.24L532.23,41.22L532.94,41.21L533.65,41.20L534.37,41.19L535.08,41.18L535.79,41.17L536.50,41.16L537.21,41.15L537.93,41.14L538.64,41.13L539.35,41.12L540.06,41.11L540.77,41.10L541.48,41.09L542.20,41.08L542.91,41.07L543.62,41.06L544.33,41.05L545.04,41.03L545.76,41.02L546.47,41.01L547.18,41.00L547.89,40.99L548.60,40.98L549.32,40.97L550.03,40.96L550.74,40.95L551.45,40.94L552.16,40.93L552.88,40.92L553.59,40.90L554.30,40.89L555.01,40.89L555.72,40.88L556.43,40.87L557.15,40.86L557.86,40.85L558.57,40.84L559.28,40.83L559.99,40.82L560.71,40.82L561.42,40.81L562.13,40.80L562.20,40.80L562.27,40.80L562.34,40.80L562.41,40.80L562.49,40.80L562.56,40.80L562.63,40.80L562.70,40.80L562.77,40.80L562.84,40.80L562.91,40.80L562.98,40.80L563.06,40.80L563.13,40.80L563.20,40.79L563.27,40.79L563.34,40.79L563.41,40.79L563.48,40.79L563.55,40.79L563.62,40.79L563.70,40.79L563.77,40.79L563.84,40.79L563.91,40.79L563.98,40.79L564.05,40.79L564.12,40.79L564.19,40.79L564.27,40.79L564.34,40.79L564.41,40.79L564.48,40.79L564.55,40.79L564.62,40.78L564.69,40.78L564.76,40.78L564.84,40.78L564.91,40.78L564.98,40.78L565.05,40.78L565.12,40.78L565.19,40.78L565.26,40.78L565.33,40.78L565.40,40.78L565.48,40.78L565.55,40.78L565.62,40.78L565.69,40.78L565.76,40.78L565.83,40.78L565.90,40.78L565.97,40.78L566.05,40.78L566.12,40.78L566.19,40.78L566.26,40.78L566.33,40.77L566.40,40.77L566.47,40.77L566.54,40.77L566.61,40.77L566.69,40.77L566.76,40.77L566.83,40.77L566.90,40.77L566.97,40.77L567.04,40.77L567.11,40.77L567.18,40.77L567.26,40.77L567.33,40.77L567.40,40.77L567.47,40.77L567.54,40.77L567.61,40.77L567.68,40.77L567.75,40.77L567.83,40.77L567.90,40.77L567.97,40.77L568.04,40.77L568.11,40.77L568.18,40.77L568.25,40.77L568.32,40.77L568.39,40.77L568.47,40.77L568.54,40.77L568.61,40.77L568.68,40.77L568.75,40.77L568.82,40.77L568.89,40.77L568.96,40.77L569.04,40.77L569.11,40.77L569.18,40.77L569.25,40.77L569.32,40.77L569.39,40.77L569.46,40.77L569.53,40.77L569.60,40.77L569.68,40.77L569.75,40.77L569.82,40.77L569.89,40.77L569.96,40.77L570.03,40.77L570.10,40.77L570.17,40.77L570.25,40.77L570.32,43.50L570.39,50.98L570.46,62.13L570.53,75.86L570.60,91.07L570.67,106.70L570.74,121.64L570.82,134.83L570.89,145.17L570.96,151.57L571.03,155.56L571.10,159.39L571.17,163.06L571.24,166.57L571.31,169.93L571.38,173.14L571.46,176.20L571.53,179.12L571.60,181.90L571.67,184.54L571.74,187.05L571.81,189.43L571.88,191.69L571.95,193.83L572.03,195.85L572.10,197.75L572.17,199.55L572.24,201.23L572.31,202.82L572.38,204.30L572.45,205.69L572.52,206.99L572.59,208.19L572.67,209.32L572.74,210.36L572.81,211.32L572.88,212.20L572.95,213.02L573.02,213.78L573.09,214.52L573.16,215.24L573.24,215.94L573.31,216.62L573.38,217.29L573.45,217.94L573.52,218.57L573.59,219.18L573.66,219.77L573.73,220.35L573.81,220.91L573.88,221.44L573.95,221.96L574.02,222.47L574.09,222.95L574.16,223.41L574.23,223.85L574.30,224.28L574.37,224.68L574.45,225.07L574.52,225.44L574.59,225.79L574.66,226.11L574.73,226.42L574.80,226.71L574.87,226.98L574.94,227.23L575.02,227.46L575.09,227.67L575.16,227.86L575.23,228.02L575.30,228.17L575.37,228.30L575.44,228.42L575.51,228.55L575.58,228.66L575.66,228.78L575.73,228.90L575.80,229.01L575.87,229.12L575.94,229.23L576.01,229.34L576.08,229.44L576.15,229.55L576.23,229.65L576.30,229.75L576.37,229.85L576.44,229.94L576.51,230.04L576.58,230.13L576.65,230.22L576.72,230.31L576.80,230.40L576.87,230.48L576.94,230.57L577.01,230.65L577.08,230.73L577.15,230.81L577.22,230.89L577.29,230.97L577.36,231.04L577.44,231.12L577.51,231.19L577.58,231.26L577.65,231.33L577.72,231.40L577.79,231.47L577.86,231.53L577.93,231.60L578.01,231.66L578.08,231.72L578.15,231.78L578.22,231.84L578.29,231.90L578.36,231.96L578.43,232.01L578.50,232.07L578.57,232.12L578.65,232.17L578.72,232.23L578.79,232.28L578.86,232.33L578.93,232.37L579.00,232.42L579.07,232.47L579.14,232.51L579.22,232.56L579.29,232.60L579.36,232.65L579.43,232.69L579.50,232.73L579.57,232.77L579.64,232.81L579.71,232.85L579.79,232.88L579.86,232.92L579.93,232.96L580.00,232.99L580.07,233.03L580.14,233.06L580.21,233.10L580.28,233.13L580.35,233.16L580.43,233.20L580.50,233.23L580.57,233.26L580.64,233.29L580.71,233.32L580.78,233.35L580.85,233.38L581.56,233.66L582.28,233.91L582.99,234.15L583.70,234.37L584.41,234.58L585.12,234.77L585.84,234.95L586.55,235.12L587.26,235.27L587.97,235.41L588.68,235.55L589.40,235.67L590.11,235.78L590.82,235.89L591.53,235.99L592.24,236.08L592.96,236.17L593.67,236.26L594.38,236.34L595.09,236.42L595.80,236.50L596.51,236.57L597.23,236.65L597.94,236.72L598.65,236.80L599.36,236.87L600.07,236.93L600.79,237.00L601.50,237.06L602.21,237.13L602.92,237.19L603.63,237.25L604.35,237.31L605.06,237.36L605.77,237.42L606.48,237.47L607.19,237.52L607.91,237.57L608.62,237.62L609.33,237.66L610.04,237.71L610.75,237.75L611.46,237.79L612.18,237.83L612.89,237.87L613.60,237.90L614.31,237.94L615.02,237.97L615.74,238.00L616.45,238.03L617.16,238.06L617.87,238.09L618.58,238.11L619.30,238.13L620.01,238.16L620.72,238.18L621.43,238.20L622.14,238.22L622.85,238.24L623.57,238.26L624.28,238.28L624.99,238.30L625.70,238.32L626.41,238.34L627.13,238.36L627.84,238.38L628.55,238.39L629.26,238.41L629.97,238.43L630.69,238.45L631.40,238.46L632.11,238.48L632.82,238.49L633.53,238.51L634.25,238.53L634.96,238.54L635.67,238.56L636.38,238.57L637.09,238.58L637.80,238.60L638.52,238.61L639.23,238.63L639.94,238.64L640.65,238.65L641.36,238.67L642.08,238.68L642.79,238.69L643.50,238.70L644.21,238.72L644.92,238.73L645.64,238.74L646.35,238.75L647.06,238.76L647.77,238.77L648.48,238.79L649.20,238.80L649.91,238.81L650.62,238.82L651.33,238.83L652.04,238.84L652.75,238.85L653.47,238.86L654.18,238.87L654.89,238.88L655.60,238.89L656.31,238.90L657.03,238.91L657.74,238.92L658.45,238.93L659.16,238.94L659.87,238.95L660.59,238.96L661.30,238.97L662.01,238.98L662.72,238.99L663.43,239.00L664.15,239.00L664.86,239.01L665.57,239.02L666.28,239.03L666.99,239.04L667.70,239.05L668.42,239.06L669.13,239.07L669.84,239.08L670.55,239.09L671.26,239.10L671.98,239.11L672.69,239.12L673.40,239.13L674.11,239.14L674.82,239.15L675.54,239.16L676.25,239.17L676.96,239.18L677.67,239.19L678.38,239.20L679.10,239.21L679.81,239.22L680.52,239.23L681.23,239.24L681.94,239.25L682.65,239.26L683.37,239.27L684.08,239.28L684.79,239.29L685.50,239.30L686.21,239.32L686.93,239.33L687.64,239.34L688.35,239.35L689.06,239.36L689.25,239.37" stroke="#22a35a" stroke-width="2.00"/>
<path d="M454.32,76.57L454.92,70.50L455.51,64.70L456.10,60.70L456.70,58.63L457.29,56.93L457.88,55.68L458.48,54.35L459.07,53.62L459.66,52.58L460.26,52.11L460.85,51.02L461.44,50.78L462.04,49.87L462.63,49.54L463.22,48.95L463.82,48.18L464.41,47.91L465.00,47.68L465.60,47.57L466.19,46.89L466.78,46.77L467.38,46.88L467.97,46.50L468.56,46.23L469.16,46.29L469.75,46.09L470.34,45.64L470.94,45.35L471.53,45.50L472.12,45.53L472.72,45.17L473.31,44.89L473.90,44.77L474.50,44.65L475.09,44.55L475.68,44.48L476.27,44.72L476.87,44.30L477.46,44.06L478.05,44.21L478.65,44.24L479.24,43.83L479.83,43.80L480.43,43.83L481.02,44.04L481.61,43.74L482.21,43.67L482.80,43.42L483.39,43.24L483.99,43.41L484.58,43.37L485.17,43.23L485.77,43.17L486.36,43.06L486.95,43.24L487.55,43.08L488.14,42.81L488.73,42.89L489.33,42.93L489.92,43.01L490.51,42.95L491.11,42.97L491.70,42.48L492.29,42.62L492.89,42.50L493.48,42.47L494.07,42.48L494.67,42.70L495.26,42.49L495.85,42.52L496.45,42.65L497.04,42.35L497.63,42.09L498.22,42.04L498.82,42.45L499.41,42.06L500.00,42.43L500.60,42.34L501.19,42.31L501.78,42.20L502.38,42.31L502.97,42.18L503.56,42.23L504.16,41.87L504.75,41.75L505.34,41.90L505.94,42.12L506.53,42.01L507.12,42.06L507.72,41.56L508.31,41.80L508.90,41.95L509.50,41.72L510.09,41.86L510.68,41.65L511.28,41.71L511.87,41.61L512.46,41.49L513.06,41.63L513.65,41.79L514.24,41.62L514.84,41.54L515.43,41.72L516.02,41.36L516.62,41.44L517.21,41.71L517.80,41.36L518.40,41.35L518.99,41.43L519.58,41.45L520.18,41.45L520.77,41.65L521.36,41.66L521.95,41.25L522.55,41.44L523.14,41.35L523.73,41.30L524.33,41.16L524.92,41.26L525.51,41.36L526.11,41.31L526.70,41.46L527.29,41.11L527.89,41.24L528.48,41.51L529.07,41.14L529.67,41.00L530.26,41.03L530.85,41.15L531.45,41.17L532.04,40.97L532.63,41.06L533.23,41.28L533.82,41.01L534.41,40.96L535.01,41.21L535.60,41.24L536.19,41.15L536.79,41.34L537.38,40.98L537.97,41.29L538.57,41.00L539.16,41.20L539.75,41.24L540.35,40.93L540.94,40.84L541.53,41.17L542.13,40.85L542.72,41.24L543.31,41.11L543.91,41.13L544.50,40.98L545.09,41.11L545.68,41.16L546.28,40.94L546.87,41.02L547.46,40.89L548.06,40.96L548.65,41.03L549.24,40.97L549.84,40.79L550.43,40.83L551.02,41.03L551.62,40.94L552.21,41.17L552.80,40.71L553.40,40.66L553.99,40.77L554.58,40.69L555.18,41.06L555.77,40.95L556.36,41.06L556.96,41.10L557.55,40.92L558.14,40.82L558.74,40.68L559.33,40.64L559.92,40.96L560.52,40.62L561.11,40.60L561.70,40.75L562.30,40.65L562.89,40.56L563.48,40.78L564.08,40.99L564.67,40.95L565.26,40.73L565.86,40.68L566.45,40.83L567.04,40.87L567.64,40.63L568.23,40.66L568.82,40.57L569.41,40.69L570.01,40.68" stroke="#22a35a" stroke-width="3.3"/>
<path d="M438.90,239.72L439.61,239.72L440.32,239.72L441.04,239.72L441.75,239.72L442.46,239.72L443.17,239.72L443.88,239.72L444.60,239.72L445.31,239.72L445.38,239.72L445.45,239.72L445.52,239.72L445.59,239.72L445.66,239.72L445.73,239.72L445.81,239.72L445.88,239.72L445.95,239.72L446.02,239.72L446.09,239.72L446.16,239.72L446.23,239.72L446.30,239.72L446.37,239.72L446.45,239.72L446.52,239.72L446.59,239.72L446.66,239.72L446.73,239.72L446.80,239.72L446.87,239.72L446.94,239.72L447.02,239.72L447.09,239.72L447.16,239.72L447.23,239.72L447.30,239.72L447.37,239.72L447.44,239.72L447.51,239.72L447.59,239.72L447.66,239.72L447.73,239.72L447.80,239.72L447.87,239.72L447.94,239.72L448.01,239.72L448.08,239.72L448.15,239.72L448.23,239.72L448.30,239.72L448.37,239.72L448.44,239.72L448.51,239.72L448.58,239.72L448.65,239.72L448.72,239.72L448.80,239.72L448.87,239.72L448.94,239.72L449.01,239.72L449.08,239.72L449.15,239.72L449.22,239.72L449.29,239.72L449.36,239.72L449.44,239.72L449.51,239.72L449.58,239.72L449.65,239.72L449.72,239.72L449.79,239.72L449.86,239.72L449.93,239.72L450.01,239.72L450.08,239.72L450.15,239.72L450.22,239.72L450.29,239.72L450.36,239.72L450.43,239.72L450.50,239.72L450.58,239.72L450.65,239.72L450.72,239.72L450.79,239.72L450.86,239.72L450.93,239.72L451.00,239.72L451.07,239.72L451.14,239.72L451.22,239.72L451.29,238.60L451.36,233.34L451.43,224.97L451.50,214.81L451.57,204.18L451.64,194.41L451.71,186.83L451.79,180.84L451.86,174.97L451.93,169.28L452.00,163.80L452.07,158.58L452.14,153.65L452.21,149.06L452.28,144.85L452.35,141.06L452.43,137.73L452.50,134.91L452.57,132.39L452.64,129.96L452.71,127.61L452.78,125.34L452.85,123.15L452.92,121.04L453.00,119.02L453.07,117.08L453.14,115.23L453.21,113.46L453.28,111.77L453.35,110.17L453.42,108.65L453.49,107.22L453.57,105.88L453.64,104.62L453.71,103.45L453.78,102.37L453.85,101.37L453.92,100.46L453.99,99.64L454.06,98.90L454.13,98.24L454.21,97.60L454.28,96.97L454.35,96.36L454.42,95.75L454.49,95.17L454.56,94.59L454.63,94.03L454.70,93.48L454.78,92.94L454.85,92.41L454.92,91.90L454.99,91.40L455.06,90.91L455.13,90.43L455.20,89.96L455.27,89.51L455.34,89.06L455.42,88.63L455.49,88.21L455.56,87.79L455.63,87.39L455.70,86.99L455.77,86.61L455.84,86.24L455.91,85.87L455.99,85.52L456.06,85.17L456.13,84.83L456.20,84.50L456.27,84.18L456.34,83.87L456.41,83.56L456.48,83.26L456.56,82.97L456.63,82.69L456.70,82.42L456.77,82.15L456.84,81.89L456.91,81.63L456.98,81.38L457.05,81.14L457.12,80.90L457.20,80.67L457.27,80.45L457.34,80.23L457.41,80.01L457.48,79.81L457.55,79.60L457.62,79.40L457.69,79.21L457.77,79.01L457.84,78.83L457.91,78.64L457.98,78.46L458.05,78.29L458.12,78.12L458.19,77.95L458.26,77.79L458.33,77.63L458.41,77.48L458.48,77.33L458.55,77.19L458.62,77.05L458.69,76.91L458.76,76.78L458.83,76.65L458.90,76.52L458.98,76.40L459.05,76.28L459.12,76.16L459.19,76.04L459.26,75.93L459.33,75.82L459.40,75.72L459.47,75.61L459.55,75.51L459.62,75.41L459.69,75.31L459.76,75.22L459.83,75.12L459.90,75.03L459.97,74.94L460.04,74.85L460.11,74.76L460.19,74.67L460.26,74.58L460.33,74.50L460.40,74.41L460.47,74.32L460.54,74.24L460.61,74.15L460.68,74.07L460.76,73.98L460.83,73.90L460.90,73.82L460.97,73.73L461.04,73.65L461.11,73.57L461.18,73.49L461.25,73.41L461.32,73.33L461.40,73.25L461.47,73.18L461.54,73.10L461.61,73.02L461.68,72.95L461.75,72.87L461.82,72.80L461.89,72.72L461.97,72.65L462.04,72.57L462.11,72.50L462.18,72.43L462.25,72.36L462.32,72.29L462.39,72.22L462.46,72.15L462.54,72.08L462.61,72.01L462.68,71.94L462.75,71.87L462.82,71.80L462.89,71.74L462.96,71.67L463.03,71.61L463.10,71.54L463.18,71.48L463.25,71.41L463.32,71.35L463.39,71.29L463.46,71.22L463.53,71.16L463.60,71.10L463.67,71.04L463.75,70.98L463.82,70.92L463.89,70.86L464.60,70.30L465.31,69.78L466.02,69.31L466.74,68.88L467.45,68.46L468.16,68.06L468.87,67.67L469.58,67.30L470.29,66.94L471.01,66.61L471.72,66.29L472.43,66.01L473.14,65.74L473.85,65.51L474.57,65.30L475.28,65.13L475.99,64.99L476.70,64.88L477.41,64.76L478.13,64.65L478.84,64.55L479.55,64.45L480.26,64.36L480.97,64.27L481.69,64.19L482.40,64.11L483.11,64.04L483.82,63.97L484.53,63.90L485.24,63.84L485.96,63.78L486.67,63.73L487.38,63.68L488.09,63.63L488.80,63.58L489.52,63.54L490.23,63.49L490.94,63.45L491.65,63.42L492.36,63.38L493.08,63.35L493.79,63.31L494.50,63.28L495.21,63.25L495.92,63.22L496.64,63.19L497.35,63.16L498.06,63.13L498.77,63.11L499.48,63.08L500.19,63.06L500.91,63.03L501.62,63.01L502.33,62.99L503.04,62.96L503.75,62.94L504.47,62.92L505.18,62.90L505.89,62.88L506.60,62.86L507.31,62.84L508.03,62.82L508.74,62.80L509.45,62.78L510.16,62.77L510.87,62.75L511.58,62.73L512.30,62.71L513.01,62.69L513.72,62.67L514.43,62.66L515.14,62.64L515.86,62.62L516.57,62.60L517.28,62.58L517.99,62.56L518.70,62.54L519.42,62.52L520.13,62.51L520.84,62.49L521.55,62.47L522.26,62.45L522.98,62.43L523.69,62.42L524.40,62.40L525.11,62.38L525.82,62.36L526.53,62.35L527.25,62.33L527.96,62.31L528.67,62.30L529.38,62.28L530.09,62.27L530.81,62.25L531.52,62.24L532.23,62.22L532.94,62.21L533.65,62.19L534.37,62.18L535.08,62.17L535.79,62.15L536.50,62.14L537.21,62.13L537.93,62.12L538.64,62.11L539.35,62.10L540.06,62.09L540.77,62.08L541.48,62.07L542.20,62.06L542.91,62.05L543.62,62.04L544.33,62.03L545.04,62.02L545.76,62.01L546.47,62.00L547.18,62.00L547.89,61.99L548.60,61.98L549.32,61.97L550.03,61.96L550.74,61.95L551.45,61.94L552.16,61.93L552.88,61.93L553.59,61.92L554.30,61.91L555.01,61.90L555.72,61.90L556.43,61.89L557.15,61.88L557.86,61.88L558.57,61.87L559.28,61.87L559.99,61.86L560.71,61.86L561.42,61.85L562.13,61.85L562.20,61.85L562.27,61.85L562.34,61.85L562.41,61.85L562.49,61.85L562.56,61.85L562.63,61.85L562.70,61.84L562.77,61.84L562.84,61.84L562.91,61.84L562.98,61.84L563.06,61.84L563.13,61.84L563.20,61.84L563.27,61.84L563.34,61.84L563.41,61.84L563.48,61.84L563.55,61.84L563.62,61.84L563.70,61.84L563.77,61.84L563.84,61.84L563.91,61.84L563.98,61.84L564.05,61.84L564.12,61.84L564.19,61.84L564.27,61.84L564.34,61.84L564.41,61.84L564.48,61.84L564.55,61.84L564.62,61.84L564.69,61.84L564.76,61.84L564.84,61.84L564.91,61.84L564.98,61.84L565.05,61.84L565.12,61.84L565.19,61.84L565.26,61.84L565.33,61.84L565.40,61.84L565.48,61.84L565.55,61.84L565.62,61.84L565.69,61.84L565.76,61.83L565.83,61.83L565.90,61.83L565.97,61.83L566.05,61.83L566.12,61.83L566.19,61.83L566.26,61.83L566.33,61.83L566.40,61.83L566.47,61.83L566.54,61.83L566.61,61.83L566.69,61.83L566.76,61.83L566.83,61.83L566.90,61.83L566.97,61.83L567.04,61.83L567.11,61.83L567.18,61.83L567.26,61.83L567.33,61.83L567.40,61.83L567.47,61.83L567.54,62.11L567.61,65.96L567.68,73.64L567.75,84.22L567.83,96.76L567.90,110.36L567.97,124.07L568.04,136.97L568.11,148.14L568.18,156.65L568.25,161.80L568.32,165.93L568.39,169.89L568.47,173.67L568.54,177.30L568.61,180.75L568.68,184.05L568.75,187.18L568.82,190.16L568.89,192.99L568.96,195.66L569.04,198.18L569.11,200.56L569.18,202.79L569.25,204.88L569.32,206.83L569.39,208.64L569.46,210.31L569.53,211.86L569.60,213.27L569.68,214.56L569.75,215.72L569.82,216.76L569.89,217.68L569.96,218.53L570.03,219.37L570.10,220.18L570.17,220.98L570.25,221.76L570.32,222.52L570.39,223.26L570.46,223.98L570.53,224.67L570.60,225.35L570.67,226.01L570.74,226.64L570.82,227.25L570.89,227.84L570.96,228.41L571.03,228.95L571.10,229.47L571.17,229.97L571.24,230.44L571.31,230.88L571.38,231.30L571.46,231.70L571.53,232.07L571.60,232.41L571.67,232.73L571.74,233.01L571.81,233.27L571.88,233.51L571.95,233.71L572.03,233.89L572.10,234.03L572.17,234.15L572.24,234.23L572.31,234.29L572.38,234.35L572.45,234.41L572.52,234.47L572.59,234.52L572.67,234.57L572.74,234.63L572.81,234.68L572.88,234.72L572.95,234.77L573.02,234.82L573.09,234.86L573.16,234.91L573.24,234.95L573.31,234.99L573.38,235.03L573.45,235.07L573.52,235.11L573.59,235.14L573.66,235.18L573.73,235.21L573.81,235.25L573.88,235.28L573.95,235.31L574.02,235.34L574.09,235.37L574.16,235.40L574.23,235.43L574.30,235.45L574.37,235.48L574.45,235.51L574.52,235.53L574.59,235.55L574.66,235.58L574.73,235.60L574.80,235.62L574.87,235.64L574.94,235.66L575.02,235.68L575.09,235.70L575.16,235.72L575.23,235.74L575.30,235.76L575.37,235.78L575.44,235.79L575.51,235.81L575.58,235.83L575.66,235.84L575.73,235.86L575.80,235.87L575.87,235.89L575.94,235.90L576.01,235.92L576.08,235.93L576.15,235.94L576.23,235.96L576.30,235.97L576.37,235.99L576.44,236.00L576.51,236.01L576.58,236.03L576.65,236.04L576.72,236.05L576.80,236.07L576.87,236.08L576.94,236.09L577.01,236.11L577.08,236.12L577.15,236.13L577.22,236.15L577.29,236.16L577.36,236.17L577.44,236.18L577.51,236.20L577.58,236.21L577.65,236.22L577.72,236.23L577.79,236.25L577.86,236.26L577.93,236.27L578.01,236.28L578.08,236.30L578.15,236.31L578.22,236.32L578.29,236.33L578.36,236.34L578.43,236.36L578.50,236.37L578.57,236.38L578.65,236.39L578.72,236.40L578.79,236.41L578.86,236.43L578.93,236.44L579.00,236.45L579.07,236.46L579.14,236.47L579.22,236.48L579.29,236.49L579.36,236.50L579.43,236.51L579.50,236.53L579.57,236.54L579.64,236.55L579.71,236.56L579.79,236.57L579.86,236.58L579.93,236.59L580.00,236.60L580.07,236.61L580.14,236.62L580.21,236.63L580.28,236.64L580.35,236.65L580.43,236.66L580.50,236.67L580.57,236.68L580.64,236.69L580.71,236.70L580.78,236.71L580.85,236.72L581.56,236.82L582.28,236.91L582.99,236.99L583.70,237.07L584.41,237.14L585.12,237.21L585.84,237.28L586.55,237.34L587.26,237.40L587.97,237.46L588.68,237.51L589.40,237.56L590.11,237.61L590.82,237.65L591.53,237.69L592.24,237.73L592.96,237.77L593.67,237.81L594.38,237.84L595.09,237.88L595.80,237.92L596.51,237.95L597.23,237.99L597.94,238.02L598.65,238.05L599.36,238.08L600.07,238.12L600.79,238.15L601.50,238.18L602.21,238.21L602.92,238.24L603.63,238.26L604.35,238.29L605.06,238.32L605.77,238.35L606.48,238.37L607.19,238.40L607.91,238.42L608.62,238.45L609.33,238.47L610.04,238.50L610.75,238.52L611.46,238.54L612.18,238.56L612.89,238.58L613.60,238.60L614.31,238.62L615.02,238.64L615.74,238.66L616.45,238.68L617.16,238.70L617.87,238.72L618.58,238.73L619.30,238.75L620.01,238.77L620.72,238.78L621.43,238.80L622.14,238.81L622.85,238.83L623.57,238.84L624.28,238.85L624.99,238.87L625.70,238.88L626.41,238.89L627.13,238.90L627.84,238.91L628.55,238.92L629.26,238.93L629.97,238.94L630.69,238.95L631.40,238.96L632.11,238.97L632.82,238.98L633.53,238.99L634.25,239.00L634.96,239.01L635.67,239.02L636.38,239.03L637.09,239.04L637.80,239.04L638.52,239.05L639.23,239.06L639.94,239.07L640.65,239.07L641.36,239.08L642.08,239.09L642.79,239.10L643.50,239.10L644.21,239.11L644.92,239.12L645.64,239.12L646.35,239.13L647.06,239.14L647.77,239.14L648.48,239.15L649.20,239.16L649.91,239.16L650.62,239.17L651.33,239.17L652.04,239.18L652.75,239.19L653.47,239.19L654.18,239.20L654.89,239.20L655.60,239.21L656.31,239.21L657.03,239.22L657.74,239.23L658.45,239.23L659.16,239.24L659.87,239.24L660.59,239.25L661.30,239.25L662.01,239.26L662.72,239.26L663.43,239.27L664.15,239.27L664.86,239.28L665.57,239.28L666.28,239.29L666.99,239.29L667.70,239.30L668.42,239.30L669.13,239.31L669.84,239.31L670.55,239.31L671.26,239.32L671.98,239.32L672.69,239.33L673.40,239.33L674.11,239.34L674.82,239.34L675.54,239.35L676.25,239.35L676.96,239.36L677.67,239.36L678.38,239.37L679.10,239.37L679.81,239.38L680.52,239.39L681.23,239.39L681.94,239.40L682.65,239.40L683.37,239.41L684.08,239.41L684.79,239.42L685.50,239.42L686.21,239.43L686.93,239.44L687.64,239.44L688.35,239.45L689.06,239.45L689.25,239.46" stroke="#a463e0" stroke-width="2.20"/>
<path d="M455.51,88.08L456.10,85.06L456.70,82.29L457.29,80.27L457.88,79.00L458.48,77.48L459.07,76.67L459.66,75.17L460.26,74.96L460.85,73.88L461.44,72.69L462.04,72.15L462.63,71.73L463.22,71.10L463.82,70.71L464.41,69.95L465.00,70.34L465.60,69.44L466.19,69.31L466.78,68.99L467.38,68.02L467.97,67.83L468.56,68.05L469.16,67.46L469.75,67.01L470.34,66.85L470.94,66.77L471.53,66.83L472.12,65.90L472.72,65.65L473.31,65.81L473.90,65.95L474.50,65.79L475.09,64.95L475.68,64.81L476.27,64.54L476.87,64.98L477.46,64.65L478.05,64.49L478.65,64.32L479.24,64.01L479.83,64.56L480.43,64.22L481.02,63.88L481.61,63.80L482.21,64.46L482.80,64.34L483.39,64.16L483.99,64.21L484.58,64.18L485.17,63.42L485.77,63.69L486.36,63.45L486.95,63.65L487.55,64.14L488.14,63.68L488.73,63.88L489.33,63.79L489.92,63.20L490.51,63.54L491.11,63.34L491.70,63.68L492.29,63.91L492.89,63.64L493.48,63.75L494.07,62.84L494.67,62.83L495.26,63.24L495.85,62.84L496.45,63.42L497.04,62.81L497.63,63.41L498.22,63.07L498.82,63.29L499.41,63.30L500.00,62.95L500.60,63.29L501.19,62.82L501.78,62.49L502.38,62.57L502.97,63.36L503.56,63.46L504.16,62.91L504.75,62.51L505.34,62.68L505.94,62.50L506.53,62.70L507.12,62.96L507.72,63.00L508.31,62.59L508.90,62.51L509.50,62.44L510.09,63.09L510.68,62.95L511.28,63.24L511.87,63.03L512.46,62.78L513.06,62.37L513.65,62.22L514.24,62.34L514.84,62.50L515.43,62.56L516.02,62.96L516.62,62.36L517.21,62.79L517.80,62.40L518.40,62.51L518.99,62.55L519.58,62.29L520.18,62.89L520.77,62.51L521.36,62.89L521.95,62.56L522.55,62.43L523.14,62.09L523.73,62.68L524.33,62.24L524.92,62.01L525.51,62.68L526.11,62.81L526.70,62.15L527.29,62.69L527.89,62.70L528.48,62.53L529.07,62.15L529.67,62.27L530.26,62.50L530.85,62.73L531.45,61.98L532.04,62.42L532.63,62.52L533.23,62.13L533.82,62.24L534.41,62.62L535.01,62.47L535.60,61.71L536.19,61.84L536.79,62.52L537.38,62.37L537.97,62.36L538.57,62.10L539.16,61.71L539.75,62.06L540.35,62.54L540.94,61.62L541.53,62.47L542.13,62.12L542.72,61.86L543.31,61.90L543.91,62.24L544.50,61.96L545.09,61.92L545.68,62.47L546.28,61.61L546.87,62.11L547.46,62.06L548.06,62.02L548.65,61.64L549.24,62.09L549.84,61.49L550.43,61.94L551.02,61.70L551.62,61.66L552.21,62.36L552.80,61.86L553.40,62.29L553.99,62.09L554.58,61.91L555.18,62.11L555.77,61.37L556.36,62.09L556.96,62.06L557.55,61.81L558.14,62.15L558.74,61.38L559.33,61.36L559.92,61.76L560.52,61.50L561.11,61.96L561.70,61.94L562.30,62.00L562.89,61.43L563.48,61.53L564.08,62.35L564.67,62.18L565.26,61.86L565.86,61.79L566.45,61.87L567.04,61.98" stroke="#a463e0" stroke-width="4.4"/>
<path d="M438.90,240.43L439.61,240.43L440.32,240.43L441.04,240.43L441.75,240.43L442.46,240.43L443.17,240.43L443.88,240.43L444.60,240.43L445.31,240.43L445.38,240.43L445.45,240.43L445.52,240.43L445.59,240.43L445.66,240.43L445.73,240.43L445.81,240.43L445.88,240.43L445.95,240.43L446.02,240.43L446.09,240.43L446.16,240.43L446.23,240.43L446.30,240.43L446.37,240.43L446.45,240.43L446.52,240.43L446.59,240.43L446.66,240.43L446.73,240.43L446.80,240.43L446.87,240.43L446.94,240.43L447.02,240.43L447.09,240.43L447.16,240.43L447.23,240.43L447.30,240.43L447.37,240.43L447.44,240.43L447.51,240.43L447.59,240.43L447.66,240.43L447.73,240.43L447.80,240.43L447.87,240.43L447.94,240.43L448.01,240.43L448.08,240.43L448.15,240.43L448.23,240.43L448.30,240.43L448.37,240.43L448.44,240.43L448.51,240.43L448.58,240.43L448.65,240.43L448.72,240.43L448.80,240.43L448.87,240.43L448.94,240.43L449.01,240.43L449.08,240.43L449.15,240.43L449.22,240.43L449.29,240.43L449.36,240.43L449.44,240.43L449.51,240.43L449.58,240.43L449.65,240.43L449.72,240.43L449.79,240.43L449.86,240.43L449.93,240.43L450.01,240.43L450.08,240.43L450.15,240.43L450.22,240.43L450.29,240.43L450.36,240.43L450.43,240.43L450.50,240.43L450.58,240.43L450.65,240.43L450.72,240.43L450.79,240.43L450.86,240.43L450.93,240.43L451.00,240.43L451.07,240.43L451.14,240.43L451.22,240.43L451.29,240.43L451.36,240.43L451.43,240.43L451.50,240.42L451.57,240.39L451.64,240.33L451.71,240.23L451.79,240.11L451.86,239.95L451.93,239.76L452.00,239.54L452.07,239.29L452.14,239.02L452.21,238.72L452.28,238.40L452.35,238.05L452.43,237.68L452.50,237.29L452.57,236.88L452.64,236.45L452.71,236.00L452.78,235.54L452.85,235.05L452.92,234.55L453.00,234.04L453.07,233.51L453.14,232.98L453.21,232.43L453.28,231.87L453.35,231.30L453.42,230.72L453.49,230.14L453.57,229.55L453.64,228.95L453.71,228.36L453.78,227.75L453.85,227.15L453.92,226.55L453.99,225.94L454.06,225.34L454.13,224.74L454.21,224.15L454.28,223.55L454.35,222.97L454.42,222.39L454.49,221.81L454.56,221.25L454.63,220.70L454.70,220.15L454.78,219.62L454.85,219.10L454.92,218.60L454.99,218.11L455.06,217.62L455.13,217.15L455.20,216.69L455.27,216.23L455.34,215.77L455.42,215.32L455.49,214.86L455.56,214.40L455.63,213.94L455.70,213.47L455.77,212.99L455.84,212.51L455.91,212.01L455.99,211.49L456.06,210.96L456.13,210.42L456.20,209.85L456.27,209.27L456.34,208.65L456.41,208.02L456.48,207.36L456.56,206.66L456.63,205.94L456.70,205.19L456.77,204.40L456.84,203.57L456.91,202.70L456.98,201.80L457.05,200.85L457.12,199.86L457.20,198.80L457.27,197.38L457.34,195.61L457.41,193.56L457.48,191.33L457.55,189.01L457.62,186.70L457.69,184.47L457.77,182.42L457.84,180.38L457.91,178.18L457.98,175.97L458.05,173.90L458.12,172.10L458.19,170.71L458.26,169.84L458.33,169.16L458.41,168.54L458.48,167.97L458.55,167.45L458.62,166.98L458.69,166.54L458.76,166.15L458.83,165.79L458.90,165.46L458.98,165.15L459.05,164.86L459.12,164.59L459.19,164.33L459.26,164.08L459.33,163.83L459.40,163.59L459.47,163.37L459.55,163.15L459.62,162.95L459.69,162.75L459.76,162.56L459.83,162.38L459.90,162.21L459.97,162.05L460.04,161.88L460.11,161.73L460.19,161.58L460.26,161.43L460.33,161.28L460.40,161.14L460.47,160.99L460.54,160.85L460.61,160.71L460.68,160.56L460.76,160.41L460.83,160.26L460.90,160.10L460.97,159.94L461.04,159.78L461.11,159.61L461.18,159.45L461.25,159.28L461.32,159.10L461.40,158.93L461.47,158.75L461.54,158.57L461.61,158.39L461.68,158.21L461.75,158.03L461.82,157.85L461.89,157.66L461.97,157.48L462.04,157.29L462.11,157.11L462.18,156.92L462.25,156.73L462.32,156.55L462.39,156.36L462.46,156.17L462.54,155.98L462.61,155.80L462.68,155.61L462.75,155.43L462.82,155.24L462.89,155.06L462.96,154.87L463.03,154.69L463.10,154.51L463.18,154.33L463.25,154.15L463.32,153.98L463.39,153.80L463.46,153.63L463.53,153.46L463.60,153.29L463.67,153.12L463.75,152.96L463.82,152.80L463.89,152.64L464.60,151.23L465.31,150.24L466.02,149.68L466.74,149.23L467.45,148.83L468.16,148.48L468.87,148.18L469.58,147.92L470.29,147.69L471.01,147.50L471.72,147.33L472.43,147.19L473.14,147.06L473.85,146.93L474.57,146.81L475.28,146.69L475.99,146.58L476.70,146.48L477.41,146.38L478.13,146.29L478.84,146.20L479.55,146.12L480.26,146.04L480.97,145.96L481.69,145.89L482.40,145.82L483.11,145.75L483.82,145.69L484.53,145.63L485.24,145.57L485.96,145.51L486.67,145.46L487.38,145.40L488.09,145.35L488.80,145.30L489.52,145.25L490.23,145.20L490.94,145.15L491.65,145.11L492.36,145.06L493.08,145.02L493.79,144.98L494.50,144.94L495.21,144.90L495.92,144.87L496.64,144.83L497.35,144.80L498.06,144.76L498.77,144.73L499.48,144.70L500.19,144.67L500.91,144.63L501.62,144.60L502.33,144.57L503.04,144.54L503.75,144.51L504.47,144.48L505.18,144.45L505.89,144.42L506.60,144.39L507.31,144.36L508.03,144.33L508.74,144.29L509.45,144.26L510.16,144.23L510.87,144.19L511.58,144.16L512.30,144.13L513.01,144.09L513.72,144.06L514.43,144.03L515.14,144.00L515.86,143.96L516.57,143.93L517.28,143.90L517.99,143.87L518.70,143.83L519.42,143.80L520.13,143.77L520.84,143.74L521.55,143.70L522.26,143.67L522.98,143.64L523.69,143.61L524.40,143.58L525.11,143.54L525.82,143.51L526.53,143.48L527.25,143.45L527.96,143.42L528.67,143.39L529.38,143.35L530.09,143.32L530.81,143.29L531.52,143.26L532.23,143.23L532.94,143.20L533.65,143.16L534.37,143.13L535.08,143.10L535.79,143.07L536.50,143.04L537.21,143.01L537.93,142.97L538.64,142.94L539.35,142.91L540.06,142.88L540.77,142.85L541.48,142.82L542.20,142.78L542.91,142.75L543.62,142.72L544.33,142.68L545.04,142.65L545.76,142.61L546.47,142.58L547.18,142.54L547.89,142.50L548.60,142.46L549.32,142.42L550.03,142.37L550.74,142.33L551.45,142.29L552.16,142.25L552.88,142.21L553.59,142.16L554.30,142.12L555.01,142.08L555.72,142.04L556.43,142.00L557.15,141.96L557.86,141.92L558.57,141.88L559.28,141.84L559.99,141.80L560.71,141.77L561.42,141.73L562.13,141.70L562.20,141.70L562.27,141.69L562.34,141.69L562.41,141.69L562.49,141.68L562.56,141.68L562.63,141.68L562.70,141.67L562.77,141.67L562.84,141.67L562.91,141.66L562.98,141.66L563.06,141.66L563.13,141.65L563.20,141.65L563.27,141.65L563.34,141.65L563.41,141.64L563.48,141.64L563.55,141.64L563.62,141.63L563.70,141.63L563.77,141.63L563.84,141.62L563.91,141.62L563.98,141.62L564.05,141.62L564.12,141.61L564.19,141.61L564.27,141.61L564.34,141.61L564.41,141.60L564.48,141.60L564.55,141.60L564.62,141.59L564.69,141.59L564.76,141.59L564.84,141.59L564.91,141.58L564.98,141.58L565.05,141.58L565.12,141.58L565.19,141.57L565.26,141.57L565.33,141.57L565.40,141.57L565.48,141.56L565.55,141.56L565.62,141.56L565.69,141.56L565.76,141.55L565.83,141.55L565.90,141.55L565.97,141.55L566.05,141.54L566.12,141.54L566.19,141.54L566.26,141.54L566.33,141.53L566.40,141.53L566.47,141.53L566.54,141.53L566.61,141.53L566.69,141.52L566.76,141.52L566.83,141.52L566.90,141.52L566.97,141.52L567.04,141.51L567.11,141.51L567.18,141.51L567.26,141.51L567.33,141.51L567.40,141.50L567.47,141.50L567.54,141.50L567.61,141.50L567.68,141.50L567.75,141.49L567.83,141.49L567.90,141.49L567.97,141.49L568.04,141.49L568.11,141.49L568.18,141.48L568.25,141.48L568.32,141.48L568.39,141.48L568.47,141.48L568.54,141.48L568.61,141.48L568.68,141.47L568.75,141.47L568.82,141.47L568.89,141.47L568.96,141.47L569.04,141.47L569.11,141.47L569.18,141.46L569.25,141.46L569.32,141.46L569.39,141.46L569.46,141.46L569.53,141.46L569.60,141.46L569.68,141.46L569.75,141.45L569.82,141.45L569.89,141.45L569.96,141.45L570.03,141.45L570.10,141.45L570.17,141.45L570.25,141.45L570.32,141.45L570.39,141.45L570.46,141.44L570.53,141.44L570.60,141.44L570.67,141.44L570.74,141.44L570.82,141.44L570.89,141.44L570.96,141.44L571.03,141.44L571.10,141.44L571.17,141.44L571.24,141.44L571.31,141.44L571.38,141.44L571.46,141.44L571.53,141.44L571.60,141.44L571.67,141.43L571.74,141.43L571.81,141.43L571.88,141.43L571.95,141.43L572.03,141.43L572.10,141.43L572.17,141.43L572.24,141.43L572.31,141.43L572.38,141.43L572.45,141.43L572.52,141.58L572.59,143.67L572.67,147.84L572.74,153.59L572.81,160.43L572.88,167.85L572.95,175.36L573.02,182.46L573.09,188.67L573.16,193.47L573.24,196.49L573.31,198.98L573.38,201.37L573.45,203.67L573.52,205.87L573.59,207.97L573.66,209.97L573.73,211.87L573.81,213.67L573.88,215.37L573.95,216.96L574.02,218.44L574.09,219.81L574.16,221.07L574.23,222.21L574.30,223.24L574.37,224.16L574.45,224.96L574.52,225.64L574.59,226.19L574.66,226.63L574.73,227.04L574.80,227.43L574.87,227.82L574.94,228.19L575.02,228.56L575.09,228.91L575.16,229.26L575.23,229.59L575.30,229.91L575.37,230.23L575.44,230.54L575.51,230.83L575.58,231.12L575.66,231.39L575.73,231.66L575.80,231.92L575.87,232.17L575.94,232.41L576.01,232.64L576.08,232.87L576.15,233.08L576.23,233.29L576.30,233.48L576.37,233.67L576.44,233.85L576.51,234.02L576.58,234.19L576.65,234.34L576.72,234.49L576.80,234.63L576.87,234.76L576.94,234.88L577.01,235.00L577.08,235.11L577.15,235.21L577.22,235.30L577.29,235.39L577.36,235.47L577.44,235.54L577.51,235.60L577.58,235.66L577.65,235.71L577.72,235.75L577.79,235.79L577.86,235.83L577.93,235.87L578.01,235.91L578.08,235.95L578.15,235.98L578.22,236.02L578.29,236.06L578.36,236.09L578.43,236.13L578.50,236.16L578.57,236.20L578.65,236.23L578.72,236.27L578.79,236.30L578.86,236.33L578.93,236.37L579.00,236.40L579.07,236.43L579.14,236.46L579.22,236.49L579.29,236.52L579.36,236.55L579.43,236.58L579.50,236.61L579.57,236.64L579.64,236.67L579.71,236.70L579.79,236.73L579.86,236.75L579.93,236.78L580.00,236.81L580.07,236.83L580.14,236.86L580.21,236.88L580.28,236.91L580.35,236.93L580.43,236.96L580.50,236.98L580.57,237.01L580.64,237.03L580.71,237.05L580.78,237.08L580.85,237.10L581.56,237.30L582.28,237.47L582.99,237.62L583.70,237.73L584.41,237.83L585.12,237.90L585.84,237.95L586.55,237.98L587.26,238.02L587.97,238.05L588.68,238.09L589.40,238.12L590.11,238.15L590.82,238.18L591.53,238.21L592.24,238.23L592.96,238.26L593.67,238.29L594.38,238.31L595.09,238.33L595.80,238.35L596.51,238.37L597.23,238.39L597.94,238.41L598.65,238.43L599.36,238.45L600.07,238.47L600.79,238.48L601.50,238.50L602.21,238.51L602.92,238.53L603.63,238.54L604.35,238.55L605.06,238.57L605.77,238.58L606.48,238.59L607.19,238.60L607.91,238.61L608.62,238.62L609.33,238.63L610.04,238.64L610.75,238.65L611.46,238.66L612.18,238.67L612.89,238.68L613.60,238.68L614.31,238.69L615.02,238.70L615.74,238.71L616.45,238.72L617.16,238.73L617.87,238.73L618.58,238.74L619.30,238.75L620.01,238.76L620.72,238.77L621.43,238.78L622.14,238.78L622.85,238.79L623.57,238.80L624.28,238.81L624.99,238.82L625.70,238.82L626.41,238.83L627.13,238.84L627.84,238.85L628.55,238.85L629.26,238.86L629.97,238.87L630.69,238.87L631.40,238.88L632.11,238.89L632.82,238.89L633.53,238.90L634.25,238.91L634.96,238.91L635.67,238.92L636.38,238.93L637.09,238.93L637.80,238.94L638.52,238.94L639.23,238.95L639.94,238.95L640.65,238.96L641.36,238.97L642.08,238.97L642.79,238.98L643.50,238.98L644.21,238.99L644.92,238.99L645.64,239.00L646.35,239.00L647.06,239.01L647.77,239.01L648.48,239.02L649.20,239.02L649.91,239.03L650.62,239.03L651.33,239.04L652.04,239.04L652.75,239.05L653.47,239.05L654.18,239.06L654.89,239.06L655.60,239.06L656.31,239.07L657.03,239.07L657.74,239.08L658.45,239.08L659.16,239.09L659.87,239.09L660.59,239.10L661.30,239.10L662.01,239.10L662.72,239.11L663.43,239.11L664.15,239.12L664.86,239.12L665.57,239.13L666.28,239.13L666.99,239.13L667.70,239.14L668.42,239.14L669.13,239.15L669.84,239.15L670.55,239.16L671.26,239.16L671.98,239.16L672.69,239.17L673.40,239.17L674.11,239.18L674.82,239.18L675.54,239.19L676.25,239.19L676.96,239.19L677.67,239.20L678.38,239.20L679.10,239.21L679.81,239.21L680.52,239.22L681.23,239.22L681.94,239.23L682.65,239.23L683.37,239.24L684.08,239.24L684.79,239.25L685.50,239.25L686.21,239.26L686.93,239.26L687.64,239.27L688.35,239.27L689.06,239.28L689.25,239.28" stroke="#cc9410" stroke-width="2.50"/>
<path d="M454.82,219.50L457.50,218.70L454.35,217.90L457.50,217.10L454.27,216.30L457.50,215.50L454.60,214.70L457.50,213.90L454.12,213.10L457.50,212.30L454.04,211.50L457.50,210.70L454.37,209.90L457.50,209.10L453.89,208.30L457.50,207.50L453.81,206.70L457.50,205.90L454.14,205.10L457.50,204.30L453.66,203.50L457.50,202.70L453.59,201.90L457.50,201.10L453.91,200.30L457.50,199.50L453.43,198.70L457.50,197.90" stroke="#cc9410" stroke-width="1.6"/>
</g>
<rect x="427.00" y="19.35" width="296.80" height="238.00" fill="none" stroke="#000" stroke-width="2.3"/>
<path d="M438.90,257.35V252.25M438.90,19.35V24.45M557.55,257.35V252.25M557.55,19.35V24.45M676.20,257.35V252.25M676.20,19.35V24.45M458.67,257.35V255.05M458.67,19.35V21.65M478.45,257.35V255.05M478.45,19.35V21.65M498.22,257.35V255.05M498.22,19.35V21.65M518.00,257.35V255.05M518.00,19.35V21.65M537.77,257.35V255.05M537.77,19.35V21.65M577.33,257.35V255.05M577.33,19.35V21.65M597.10,257.35V255.05M597.10,19.35V21.65M616.88,257.35V255.05M616.88,19.35V21.65M636.65,257.35V255.05M636.65,19.35V21.65M656.42,257.35V255.05M656.42,19.35V21.65M695.97,257.35V255.05M695.97,19.35V21.65M715.75,257.35V255.05M715.75,19.35V21.65M427.00,257.35H432.10M723.80,257.35H718.70M427.00,239.72H432.10M723.80,239.72H718.70M427.00,222.09H432.10M723.80,222.09H718.70M427.00,204.46H432.10M723.80,204.46H718.70M427.00,186.83H432.10M723.80,186.83H718.70M427.00,169.20H432.10M723.80,169.20H718.70M427.00,151.57H432.10M723.80,151.57H718.70M427.00,133.94H432.10M723.80,133.94H718.70M427.00,116.31H432.10M723.80,116.31H718.70M427.00,98.68H432.10M723.80,98.68H718.70M427.00,81.05H432.10M723.80,81.05H718.70M427.00,63.42H432.10M723.80,63.42H718.70M427.00,45.79H432.10M723.80,45.79H718.70M427.00,28.16H432.10M723.80,28.16H718.70M427.00,248.53H429.30M723.80,248.53H721.50M427.00,230.91H429.30M723.80,230.91H721.50M427.00,213.28H429.30M723.80,213.28H721.50M427.00,195.64H429.30M723.80,195.64H721.50M427.00,178.01H429.30M723.80,178.01H721.50M427.00,160.38H429.30M723.80,160.38H721.50M427.00,142.75H429.30M723.80,142.75H721.50M427.00,125.12H429.30M723.80,125.12H721.50M427.00,107.49H429.30M723.80,107.49H721.50M427.00,89.86H429.30M723.80,89.86H721.50M427.00,72.23H429.30M723.80,72.23H721.50M427.00,54.60H429.30M723.80,54.60H721.50M427.00,36.97H429.30M723.80,36.97H721.50M427.00,19.34H429.30M723.80,19.34H721.50" stroke="#000" stroke-width="2.10" fill="none"/>
<text transform="translate(421.40 262.35) scale(1 1.080)" font-size="15.00" text-anchor="end">-200</text>
<text transform="translate(421.40 244.72) scale(1 1.080)" font-size="15.00" text-anchor="end">0</text>
<text transform="translate(421.40 227.09) scale(1 1.080)" font-size="15.00" text-anchor="end">200</text>
<text transform="translate(421.40 209.46) scale(1 1.080)" font-size="15.00" text-anchor="end">400</text>
<text transform="translate(421.40 191.83) scale(1 1.080)" font-size="15.00" text-anchor="end">600</text>
<text transform="translate(421.40 174.20) scale(1 1.080)" font-size="15.00" text-anchor="end">800</text>
<text transform="translate(421.40 156.57) scale(1 1.080)" font-size="15.00" text-anchor="end">1000</text>
<text transform="translate(421.40 138.94) scale(1 1.080)" font-size="15.00" text-anchor="end">1200</text>
<text transform="translate(421.40 121.31) scale(1 1.080)" font-size="15.00" text-anchor="end">1400</text>
<text transform="translate(421.40 103.68) scale(1 1.080)" font-size="15.00" text-anchor="end">1600</text>
<text transform="translate(421.40 86.05) scale(1 1.080)" font-size="15.00" text-anchor="end">1800</text>
<text transform="translate(421.40 68.42) scale(1 1.080)" font-size="15.00" text-anchor="end">2000</text>
<text transform="translate(421.40 50.79) scale(1 1.080)" font-size="15.00" text-anchor="end">2200</text>
<text transform="translate(421.40 33.16) scale(1 1.080)" font-size="15.00" text-anchor="end">2400</text>
<text transform="translate(438.90 274.40) scale(1 1.090)" font-size="15.00" text-anchor="middle">0</text>
<text transform="translate(557.55 274.40) scale(1 1.090)" font-size="15.00" text-anchor="middle">50</text>
<text transform="translate(676.20 274.40) scale(1 1.090)" font-size="15.00" text-anchor="middle">100</text>
<text x="575.20" y="303.50" font-size="19.50" text-anchor="middle" >Time(s)</text>
<text x="383.50" y="138.40" font-size="20.00" text-anchor="middle" transform="rotate(-90 383.5 138.4)">Current(nA)</text>
<text x="366.00" y="38.80" font-size="28.00" text-anchor="start" >b)</text>
<text x="505.40" y="12.10" font-size="15.40" text-anchor="start" >254 nm illumination</text>
<line x1="657.0" y1="31.90" x2="684.6" y2="31.90" stroke="#000000" stroke-width="2.4"/>
<text transform="translate(688.00 36.60) scale(1 1.040)" font-size="12.60" text-anchor="start">40K</text>
<line x1="657.0" y1="47.14" x2="684.6" y2="47.14" stroke="#ee3338" stroke-width="1.8"/>
<text transform="translate(688.00 51.76) scale(1 1.040)" font-size="12.60" text-anchor="start">100K</text>
<line x1="657.0" y1="62.38" x2="684.6" y2="62.38" stroke="#1a64e6" stroke-width="1.8"/>
<text transform="translate(688.00 66.92) scale(1 1.040)" font-size="12.60" text-anchor="start">160K</text>
<line x1="657.0" y1="77.62" x2="684.6" y2="77.62" stroke="#22a35a" stroke-width="1.8"/>
<text transform="translate(688.00 82.08) scale(1 1.040)" font-size="12.60" text-anchor="start">220K</text>
<line x1="657.0" y1="92.86" x2="684.6" y2="92.86" stroke="#a463e0" stroke-width="1.8"/>
<text transform="translate(688.00 97.24) scale(1 1.040)" font-size="12.60" text-anchor="start">280K</text>
<line x1="657.0" y1="108.10" x2="684.6" y2="108.10" stroke="#cc9410" stroke-width="1.8"/>
<text transform="translate(688.00 112.40) scale(1 1.040)" font-size="12.60" text-anchor="start">300K</text>
<text x="592.20" y="64.80" font-size="13.60" text-anchor="start" >Light off</text>
<line x1="572.50" y1="41.30" x2="582.73" y2="46.26" stroke="#000" stroke-width="2.30"/><polygon points="595.60,52.50 579.19,48.99 582.68,41.79" fill="#000"/>
<text x="479.80" y="226.90" font-size="13.60" text-anchor="start" >Light on</text>
<line x1="455.10" y1="240.50" x2="465.94" y2="236.62" stroke="#000" stroke-width="2.30"/><polygon points="479.40,231.80 465.40,241.06 462.71,233.53" fill="#000"/>
</g></svg>
</body></html>
